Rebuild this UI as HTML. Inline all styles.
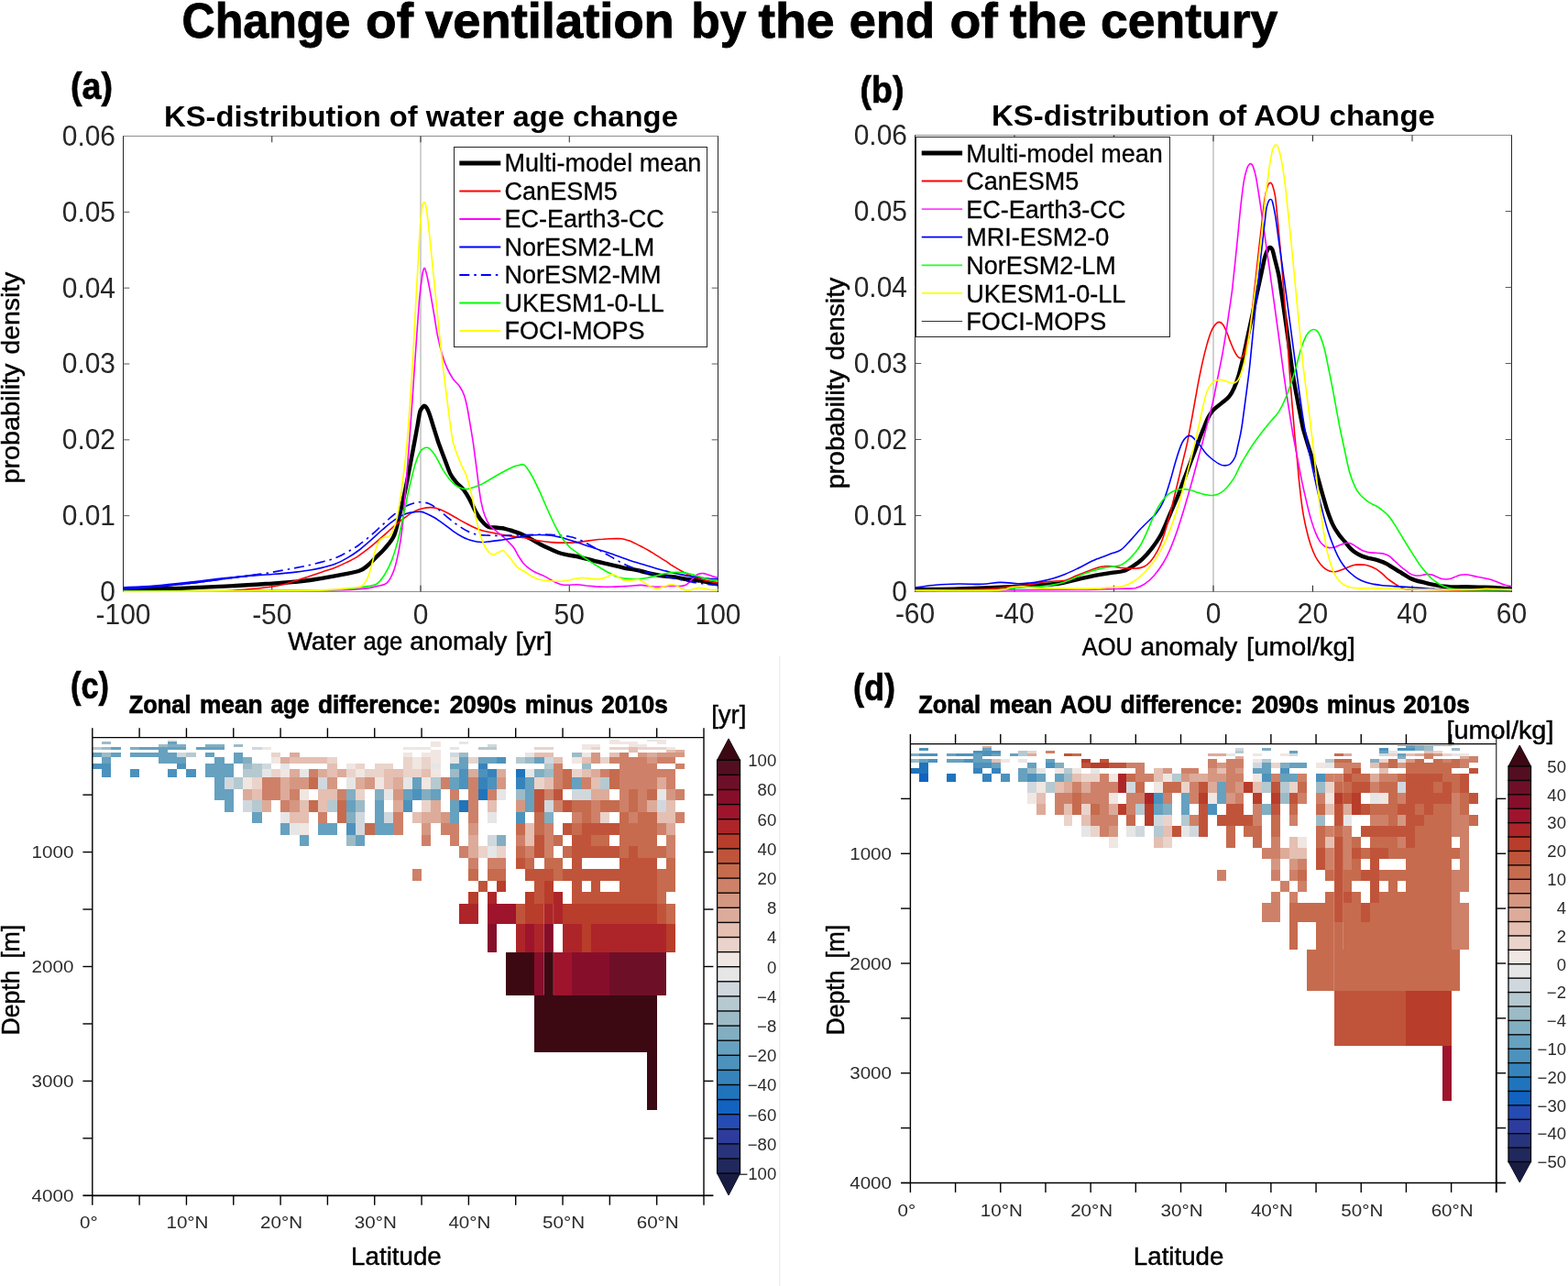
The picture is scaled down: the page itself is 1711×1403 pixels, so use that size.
<!DOCTYPE html>
<html lang="en">
<head>
<meta charset="utf-8">
<title>Change of ventilation by the end of the century</title>
<style>
html,body{margin:0;padding:0;background:#fff;}
body{width:1711px;height:1403px;overflow:hidden;font-family:"Liberation Sans",sans-serif;}
svg{display:block;}
</style>
</head>
<body>
<svg xmlns="http://www.w3.org/2000/svg" width="1711" height="1403" viewBox="0 0 1711 1403" font-family="'Liberation Sans', sans-serif">
<rect width="1711" height="1403" fill="#fff"/>
<line x1="850.80" y1="716.00" x2="850.80" y2="1403.00" stroke="#ececec" stroke-width="1.2"/>
<g><text transform="translate(198.40,41.20) scale(0.9292,1)" font-size="54.0" font-weight="bold" fill="#000" stroke="#000" stroke-width="0.9">Change</text><text transform="translate(399.00,41.20) scale(1.0199,1)" font-size="54.0" font-weight="bold" fill="#000" stroke="#000" stroke-width="0.9">of</text><text transform="translate(464.00,41.20) scale(1.0068,1)" font-size="54.0" font-weight="bold" fill="#000" stroke="#000" stroke-width="0.9">ventilation</text><text transform="translate(754.20,41.20) scale(0.9553,1)" font-size="54.0" font-weight="bold" fill="#000" stroke="#000" stroke-width="0.9">by</text><text transform="translate(827.40,41.20) scale(1.0284,1)" font-size="54.0" font-weight="bold" fill="#000" stroke="#000" stroke-width="0.9">the</text><text transform="translate(926.80,41.20) scale(0.9707,1)" font-size="54.0" font-weight="bold" fill="#000" stroke="#000" stroke-width="0.9">end</text><text transform="translate(1036.40,41.20) scale(1.0258,1)" font-size="54.0" font-weight="bold" fill="#000" stroke="#000" stroke-width="0.9">of</text><text transform="translate(1101.70,41.20) scale(1.0346,1)" font-size="54.0" font-weight="bold" fill="#000" stroke="#000" stroke-width="0.9">the</text><text transform="translate(1200.90,41.20) scale(0.9921,1)" font-size="54.0" font-weight="bold" fill="#000" stroke="#000" stroke-width="0.9">century</text></g>
<text transform="translate(77.00,107.50) scale(0.9293,1)" font-size="40.5" text-anchor="start" font-weight="bold" fill="#000" stroke="#000" stroke-width="0.7">(a)</text>
<text transform="translate(938.50,111.50) scale(0.9282,1)" font-size="40.5" text-anchor="start" font-weight="bold" fill="#000" stroke="#000" stroke-width="0.7">(b)</text>
<text transform="translate(77.00,761.50) scale(0.8485,1)" font-size="40.5" text-anchor="start" font-weight="bold" fill="#000" stroke="#000" stroke-width="0.7">(c)</text>
<text transform="translate(931.00,764.00) scale(0.8895,1)" font-size="40.5" text-anchor="start" font-weight="bold" fill="#000" stroke="#000" stroke-width="0.7">(d)</text>
<g id="panel-a">
<line x1="459.00" y1="148.50" x2="459.00" y2="645.50" stroke="#8a8a8a" stroke-width="0.8"/>
<line x1="134.00" y1="148.50" x2="784.00" y2="148.50" stroke="#8e8e8e" stroke-width="1"/>
<line x1="134.00" y1="645.50" x2="784.00" y2="645.50" stroke="#8e8e8e" stroke-width="1"/>
<line x1="134.50" y1="148.50" x2="134.50" y2="646.00" stroke="#262626" stroke-width="1"/>
<line x1="783.50" y1="148.50" x2="783.50" y2="646.00" stroke="#262626" stroke-width="1"/>
<line x1="296.75" y1="645.50" x2="296.75" y2="638.70" stroke="#262626" stroke-width="1"/>
<line x1="296.75" y1="148.50" x2="296.75" y2="155.30" stroke="#262626" stroke-width="1"/>
<line x1="459.00" y1="645.50" x2="459.00" y2="638.70" stroke="#262626" stroke-width="1"/>
<line x1="459.00" y1="148.50" x2="459.00" y2="155.30" stroke="#262626" stroke-width="1"/>
<line x1="621.25" y1="645.50" x2="621.25" y2="638.70" stroke="#262626" stroke-width="1"/>
<line x1="621.25" y1="148.50" x2="621.25" y2="155.30" stroke="#262626" stroke-width="1"/>
<line x1="134.50" y1="562.67" x2="141.30" y2="562.67" stroke="#5a5a5a" stroke-width="1"/>
<line x1="783.50" y1="562.67" x2="776.70" y2="562.67" stroke="#5a5a5a" stroke-width="1"/>
<line x1="134.50" y1="479.83" x2="141.30" y2="479.83" stroke="#5a5a5a" stroke-width="1"/>
<line x1="783.50" y1="479.83" x2="776.70" y2="479.83" stroke="#5a5a5a" stroke-width="1"/>
<line x1="134.50" y1="397.00" x2="141.30" y2="397.00" stroke="#5a5a5a" stroke-width="1"/>
<line x1="783.50" y1="397.00" x2="776.70" y2="397.00" stroke="#5a5a5a" stroke-width="1"/>
<line x1="134.50" y1="314.17" x2="141.30" y2="314.17" stroke="#5a5a5a" stroke-width="1"/>
<line x1="783.50" y1="314.17" x2="776.70" y2="314.17" stroke="#5a5a5a" stroke-width="1"/>
<line x1="134.50" y1="231.33" x2="141.30" y2="231.33" stroke="#5a5a5a" stroke-width="1"/>
<line x1="783.50" y1="231.33" x2="776.70" y2="231.33" stroke="#5a5a5a" stroke-width="1"/>
<clipPath id="clipA"><rect x="134.0" y="148.5" width="650.0" height="498.2"/></clipPath>
<g clip-path="url(#clipA)" fill="none" stroke-linejoin="round" stroke-linecap="butt">
<path d="M134.5,642.9C142.3,642.8 162.9,642.8 181.4,642.2C200.0,641.7 226.4,640.6 245.7,639.6C265.0,638.7 284.3,637.4 297.1,636.6C310.0,635.8 315.7,635.3 322.8,634.7C329.9,634.0 332.7,633.7 339.8,632.7C346.9,631.6 356.8,629.9 365.4,628.3C374.0,626.7 385.4,625.0 391.4,623.0C397.5,621.1 398.7,618.9 401.7,616.6C404.7,614.2 406.4,611.9 409.4,608.9C412.4,605.9 416.3,602.7 419.7,598.6C423.1,594.5 427.3,590.5 430.0,584.4C432.7,578.4 433.8,571.0 436.0,562.1C438.1,553.2 440.1,544.9 442.9,531.2C445.7,517.6 450.6,491.1 452.7,480.0C454.8,468.9 454.5,469.8 455.5,464.7C456.4,459.5 457.4,452.5 458.3,449.2C459.2,445.8 460.1,445.7 460.9,444.7C461.6,443.6 462.0,442.7 462.8,442.7C463.5,442.7 464.4,443.2 465.4,444.7C466.3,446.2 467.4,448.4 468.6,451.7C469.8,455.0 471.1,459.8 472.6,464.5C474.1,469.3 476.4,476.6 477.5,480.0C478.6,483.5 477.9,481.4 479.3,485.3C480.7,489.1 484.0,497.8 486.0,503.1C488.1,508.5 489.7,513.7 491.7,517.6C493.7,521.5 495.8,523.8 498.2,526.6C500.5,529.4 503.5,531.3 505.9,534.3C508.2,537.3 510.2,540.7 512.3,544.6C514.4,548.4 516.6,553.6 518.7,557.4C520.9,561.3 522.8,564.8 525.2,567.7C527.5,570.6 530.3,573.5 532.9,574.8C535.5,576.1 538.1,575.3 540.6,575.5C543.2,575.8 546.6,576.1 548.2,576.2C549.8,576.4 548.5,576.2 550.1,576.6C551.6,577.0 554.4,577.8 557.4,578.7C560.4,579.7 564.5,580.8 568.0,582.3C571.4,583.7 574.8,585.6 578.2,587.4C581.6,589.2 585.1,591.3 588.5,593.2C591.9,595.0 595.3,596.7 598.8,598.3C602.2,599.9 605.6,601.6 609.0,602.8C612.4,604.0 615.9,604.6 619.3,605.4C622.7,606.1 626.1,606.3 629.5,607.0C633.0,607.7 636.4,608.8 639.8,609.7C643.3,610.6 646.8,611.5 650.2,612.3C653.5,613.1 657.1,613.9 660.0,614.6C662.9,615.2 665.0,615.7 667.5,616.3C670.0,616.9 672.6,617.5 675.2,618.1C677.7,618.7 680.3,619.5 682.8,620.0C685.3,620.5 687.9,620.7 690.4,621.2C692.9,621.6 695.5,622.1 698.0,622.7C700.5,623.3 703.1,623.9 705.6,624.6C708.1,625.2 710.7,625.9 713.2,626.5C715.7,627.1 718.3,627.6 720.8,628.0C723.3,628.4 725.8,628.5 728.4,628.8C730.9,629.0 733.4,629.1 736.0,629.5C738.5,629.9 741.0,630.6 743.6,631.0C746.1,631.5 748.6,631.9 751.2,632.2C753.7,632.5 756.2,632.6 758.8,632.9C761.3,633.3 763.8,633.6 766.4,634.1C768.9,634.5 771.1,635.1 774.0,635.6C776.8,636.1 781.9,636.9 783.5,637.1" stroke="#000" stroke-width="4.4"/>
<path d="M134.5,645.2C150.9,645.1 212.2,645.0 232.9,644.8C253.5,644.6 251.1,644.3 258.6,643.9C266.1,643.5 271.4,642.9 277.9,642.2C284.3,641.6 291.8,640.8 297.2,640.0C302.5,639.2 305.7,638.6 310.0,637.5C314.3,636.4 318.5,634.8 322.8,633.5C327.0,632.2 332.7,630.3 335.6,629.4C338.5,628.4 337.3,628.8 340.1,627.9C343.0,626.9 348.6,625.0 352.8,623.5C357.1,622.1 361.4,620.8 365.7,619.2C370.0,617.5 374.3,615.5 378.6,613.4C382.9,611.2 387.1,609.1 391.4,606.3C395.7,603.5 400.0,600.1 404.3,596.7C408.6,593.2 412.9,589.5 417.1,585.7C421.4,582.0 425.7,577.8 430.0,574.1C434.3,570.5 439.0,566.6 442.9,563.9C446.7,561.1 449.9,559.0 453.2,557.4C456.4,555.9 459.4,555.1 462.2,554.5C464.9,553.8 467.5,553.6 469.9,553.6C472.2,553.6 473.5,553.7 476.3,554.6C479.1,555.5 483.2,557.1 486.6,558.7C490.0,560.4 493.4,562.6 496.9,564.5C500.3,566.4 503.7,568.5 507.2,570.3C510.6,572.1 514.0,573.9 517.4,575.4C520.9,576.9 524.3,578.3 527.7,579.3C531.2,580.3 534.7,580.8 538.1,581.4C541.5,582.1 545.8,583.0 547.9,583.4C550.0,583.8 548.4,583.5 550.9,583.9C553.3,584.2 558.7,585.0 562.8,585.6C566.9,586.2 571.4,586.7 575.7,587.4C579.9,588.1 584.2,589.3 588.5,590.0C592.8,590.7 597.0,591.3 601.3,591.6C605.6,592.0 609.9,592.1 614.1,592.1C618.4,592.2 623.1,592.1 627.0,591.9C630.8,591.6 633.8,591.0 637.2,590.6C640.7,590.2 644.1,589.7 647.5,589.3C651.0,588.9 654.7,588.5 657.8,588.3C660.9,588.0 663.7,587.8 666.1,587.7C668.5,587.6 670.1,587.6 672.1,587.6C674.2,587.6 676.2,587.5 678.2,587.7C680.3,588.0 682.3,588.6 684.3,589.3C686.3,589.9 688.4,590.6 690.4,591.5C692.4,592.4 694.4,593.6 696.5,594.6C698.5,595.6 700.5,596.5 702.5,597.6C704.6,598.7 706.6,599.8 708.6,601.0C710.7,602.2 712.7,603.6 714.7,604.8C716.7,606.1 718.8,607.4 720.8,608.6C722.8,609.9 724.8,611.1 726.9,612.4C728.9,613.8 730.9,615.3 732.9,616.6C735.0,617.9 737.0,619.2 739.0,620.4C741.0,621.6 743.1,622.7 745.1,623.8C747.1,624.9 748.9,625.8 751.2,626.9C753.5,627.9 756.2,629.0 758.8,629.9C761.3,630.8 763.8,631.5 766.4,632.2C768.9,632.9 771.1,633.4 774.0,634.1C776.8,634.7 781.9,635.7 783.5,636.0" stroke="#ff0000" stroke-width="1.6"/>
<path d="M134.5,645.2C170.1,645.0 304.1,644.6 347.9,644.1C391.8,643.6 387.1,642.8 397.6,642.1C408.1,641.3 407.0,640.7 411.1,639.6C415.2,638.6 419.1,638.9 422.3,635.9C425.4,632.9 427.9,627.5 430.0,621.7C432.1,615.9 433.6,608.9 435.1,601.2C436.6,593.4 438.0,584.4 439.0,575.4C440.1,566.4 440.6,557.2 441.4,547.1C442.3,537.1 443.2,526.2 444.1,515.0C445.0,503.8 445.7,494.4 446.8,480.0C447.9,465.6 449.3,445.7 450.5,428.6C451.6,411.4 452.8,393.2 454.0,377.2C455.1,361.1 456.4,341.7 457.2,332.2C457.9,322.6 457.8,324.4 458.3,320.1C458.8,315.7 459.5,309.9 460.1,305.9C460.6,302.0 460.9,298.5 461.5,296.2C462.1,294.0 462.9,292.4 463.4,292.4C463.9,292.3 464.1,294.0 464.6,295.8C465.1,297.7 465.7,299.5 466.5,303.5C467.3,307.4 468.3,312.4 469.6,319.3C470.8,326.3 472.6,337.0 474.0,345.0C475.3,352.9 476.1,359.8 477.6,366.9C479.0,373.9 481.0,381.6 482.7,387.4C484.4,393.2 485.9,397.3 487.9,401.6C489.8,405.9 491.9,409.7 494.3,413.2C496.7,416.6 500.0,419.2 502.0,422.2C504.0,425.2 505.2,427.5 506.5,431.2C507.8,434.8 508.7,439.1 509.7,444.0C510.8,448.9 511.6,454.8 512.7,460.8C513.7,466.8 515.1,475.3 515.9,480.1C516.6,484.8 516.5,483.9 517.2,489.3C517.9,494.7 519.3,505.3 520.2,512.4C521.1,519.5 521.8,525.7 522.6,531.7C523.4,537.7 524.1,543.3 525.2,548.4C526.2,553.6 527.5,558.5 529.0,562.6C530.5,566.6 532.1,570.0 534.2,572.9C536.3,575.7 539.3,577.5 541.6,579.5C543.9,581.5 546.8,583.7 548.1,584.9C549.5,586.0 548.7,585.3 549.7,586.2C550.7,587.1 552.3,588.5 554.0,590.3C555.8,592.1 558.4,594.4 560.3,597.0C562.2,599.6 563.7,603.2 565.4,606.0C567.1,608.8 568.8,611.6 570.5,613.7C572.2,615.8 573.5,617.1 575.7,618.8C577.8,620.5 580.4,622.4 583.4,624.0C586.4,625.6 590.2,626.7 593.6,628.4C597.0,630.2 600.9,632.7 603.9,634.2C606.9,635.7 609.0,636.7 611.6,637.4C614.1,638.1 616.3,638.3 619.3,638.3C622.3,638.4 626.1,637.7 629.5,637.8C633.0,637.9 636.4,638.6 639.8,639.0C643.3,639.3 646.7,639.6 650.1,639.9C653.5,640.1 657.1,640.2 660.0,640.3C662.9,640.4 665.1,640.3 667.6,640.3C670.1,640.2 672.7,640.0 675.2,639.9C677.7,639.8 680.3,639.8 682.8,639.6C685.3,639.5 687.9,639.2 690.4,639.0C692.9,638.8 696.0,638.5 698.0,638.4C700.0,638.3 700.8,638.4 702.5,638.6C704.3,638.8 706.6,639.4 708.6,639.6C710.7,639.9 712.7,640.0 714.7,640.2C716.7,640.3 718.8,640.4 720.8,640.4C722.8,640.3 724.8,640.0 726.9,639.8C728.9,639.5 730.9,639.1 732.9,639.0C735.0,639.0 737.2,639.3 739.0,639.4C740.8,639.5 742.1,639.6 743.6,639.4C745.1,639.2 746.9,638.8 748.1,638.3C749.4,637.7 750.2,636.9 751.2,636.0C752.2,635.1 753.2,634.0 754.2,632.9C755.2,631.9 756.2,630.9 757.3,629.9C758.3,629.0 759.3,627.9 760.3,627.2C761.3,626.6 762.3,626.2 763.3,625.9C764.3,625.7 765.4,625.5 766.4,625.5C767.4,625.5 768.4,625.7 769.4,625.9C770.4,626.2 771.4,626.5 772.4,626.9C773.5,627.2 774.3,627.6 775.5,628.0C776.6,628.4 778.0,628.9 779.3,629.3C780.6,629.7 782.8,630.1 783.5,630.3" stroke="#ff00ff" stroke-width="1.6"/>
<path d="M134.5,640.9C140.2,640.6 156.5,640.0 168.6,639.0C180.7,638.0 194.3,636.5 207.1,635.1C220.0,633.8 230.7,632.1 245.7,630.6C260.7,629.2 284.3,627.5 297.2,626.5C310.0,625.4 315.8,624.9 322.8,624.1C329.9,623.3 334.8,622.7 339.7,621.8C344.7,621.0 348.1,620.2 352.5,619.1C356.8,618.0 361.4,617.0 365.7,615.3C370.1,613.6 374.3,611.3 378.6,608.9C382.9,606.4 387.1,603.7 391.4,600.5C395.7,597.3 400.0,593.3 404.3,589.6C408.6,585.8 412.9,581.7 417.1,578.0C421.4,574.4 425.7,570.6 430.0,567.7C434.3,564.8 439.0,562.2 442.9,560.6C446.7,559.1 450.6,558.8 453.2,558.5C455.7,558.1 456.6,558.2 458.3,558.3C460.0,558.5 460.9,558.3 463.4,559.4C466.0,560.4 470.3,562.5 473.7,564.5C477.2,566.5 480.6,569.1 484.0,571.6C487.4,574.0 490.9,576.9 494.3,579.3C497.7,581.7 501.2,584.0 504.6,585.7C508.0,587.5 511.4,588.9 514.9,589.8C518.3,590.8 521.7,591.4 525.2,591.5C528.6,591.6 532.0,590.9 535.4,590.6C538.8,590.2 543.3,589.7 545.7,589.4C548.1,589.1 547.1,589.3 549.9,588.8C552.8,588.3 558.6,587.3 562.9,586.5C567.2,585.7 571.4,584.7 575.7,584.2C579.9,583.7 584.2,583.5 588.5,583.5C592.8,583.5 597.5,583.8 601.3,584.2C605.2,584.6 608.2,585.3 611.6,586.1C615.0,587.0 618.4,588.2 621.8,589.3C625.3,590.4 628.7,591.4 632.1,592.5C635.6,593.6 639.1,594.9 642.5,596.0C645.9,597.2 649.8,598.4 652.7,599.4C655.6,600.3 657.4,600.9 659.9,601.7C662.4,602.6 665.0,603.4 667.5,604.3C670.1,605.2 672.6,606.2 675.2,607.1C677.7,608.0 680.3,608.9 682.8,609.8C685.3,610.7 687.9,611.6 690.4,612.4C692.9,613.2 695.5,613.9 698.0,614.7C700.5,615.5 703.1,616.2 705.6,617.0C708.1,617.7 710.7,618.5 713.2,619.3C715.7,620.0 718.3,620.8 720.8,621.5C723.3,622.2 725.8,622.8 728.4,623.4C730.9,624.1 733.4,624.8 736.0,625.3C738.5,625.9 741.0,626.4 743.6,626.9C746.1,627.4 748.6,627.9 751.2,628.4C753.7,628.8 756.2,629.2 758.8,629.5C761.3,629.9 763.8,630.2 766.4,630.5C768.9,630.8 771.1,631.1 774.0,631.3C776.8,631.5 781.9,631.7 783.5,631.8" stroke="#0000ff" stroke-width="1.6"/>
<path d="M134.5,642.9C140.2,642.4 156.5,641.4 168.6,640.3C180.7,639.2 194.3,637.9 207.1,636.4C220.0,634.9 232.9,633.0 245.7,631.3C258.6,629.6 277.9,627.2 284.3,626.4" stroke="#0000ff" stroke-width="1.9"/>
<path d="M134.5,642.9C140.2,642.4 156.5,641.4 168.6,640.3C180.7,639.2 194.3,637.9 207.1,636.4C220.0,634.9 232.9,633.0 245.7,631.3C258.6,629.6 273.6,628.0 284.3,626.4C295.0,624.8 302.4,623.3 309.9,621.9C317.4,620.6 324.3,619.3 329.3,618.3C334.3,617.3 336.0,616.9 339.9,616.0C343.8,615.1 348.3,613.8 352.6,612.7C357.0,611.5 361.4,610.6 365.7,608.9C370.0,607.2 374.3,604.8 378.6,602.4C382.9,600.1 387.1,597.7 391.4,594.7C395.7,591.7 400.0,588.1 404.3,584.4C408.6,580.8 412.9,576.7 417.1,572.9C421.4,569.0 425.7,564.7 430.0,561.3C434.3,557.9 439.0,554.4 442.9,552.3C446.7,550.1 450.4,549.2 453.2,548.4C455.9,547.7 457.0,547.6 459.6,547.8C462.2,548.0 465.4,548.3 468.6,549.7C471.8,551.1 475.4,553.6 478.9,556.1C482.3,558.7 485.7,562.4 489.2,565.1C492.6,567.9 496.0,570.5 499.4,572.9C502.9,575.2 506.3,577.6 509.7,579.3C513.2,581.0 516.6,582.4 520.0,583.2C523.5,583.9 526.9,583.8 530.4,584.0C533.8,584.2 537.3,584.4 540.6,584.4C543.8,584.5 546.3,584.5 550.0,584.4C553.7,584.3 558.6,584.2 562.8,584.0C567.1,583.9 571.4,583.7 575.7,583.5C579.9,583.4 584.2,583.2 588.5,583.2C592.8,583.1 597.5,583.1 601.3,583.3C605.2,583.5 608.2,583.8 611.6,584.2C615.0,584.5 618.4,584.7 621.8,585.5C625.3,586.2 628.7,587.3 632.1,588.7C635.5,590.1 638.6,592.0 642.0,593.8C645.5,595.6 649.7,597.9 652.7,599.5C655.7,601.1 657.4,602.1 659.9,603.5C662.4,604.9 665.0,606.4 667.6,607.9C670.1,609.4 672.7,611.0 675.2,612.4C677.7,613.8 680.3,615.1 682.8,616.2C685.3,617.4 687.9,618.3 690.4,619.3C692.9,620.2 695.5,621.1 698.0,621.9C700.5,622.7 703.1,623.5 705.6,624.2C708.1,624.9 710.7,625.5 713.2,626.1C715.7,626.7 718.3,627.4 720.8,628.0C723.3,628.6 725.8,629.0 728.4,629.5C730.9,630.0 733.4,630.5 736.0,631.0C738.5,631.5 741.0,632.1 743.6,632.6C746.1,633.1 748.6,633.6 751.2,634.1C753.7,634.6 756.2,635.2 758.8,635.6C761.3,636.0 763.8,636.4 766.4,636.7C768.9,637.1 771.1,637.3 774.0,637.7C776.8,638.0 781.9,638.5 783.5,638.6" stroke="#0000ff" stroke-width="1.65" stroke-dasharray="11,5,2.5,5"/>
<path d="M134.5,645.0C167.4,644.9 291.0,644.5 331.6,644.1C372.3,643.7 367.5,643.2 378.4,642.5C389.3,641.9 391.8,641.1 397.2,640.2C402.6,639.3 407.0,639.4 410.7,637.2C414.5,634.9 416.9,631.2 419.7,626.9C422.5,622.6 425.1,617.4 427.4,611.4C429.8,605.4 431.7,599.0 433.9,590.9C436.0,582.7 438.1,572.4 440.3,562.6C442.4,552.7 444.6,541.1 446.7,531.7C448.9,522.3 451.2,512.4 453.2,506.0C455.1,499.6 456.8,495.9 458.3,493.1C459.8,490.4 461.0,490.1 462.2,489.3C463.3,488.5 464.3,488.3 465.4,488.3C466.4,488.3 467.2,488.2 468.6,489.3C470.0,490.4 472.0,492.6 473.7,495.1C475.4,497.5 477.2,501.0 478.9,504.1C480.6,507.2 482.1,510.6 484.0,513.7C485.9,516.8 488.3,520.1 490.4,522.7C492.6,525.3 494.7,527.5 496.9,529.1C499.0,530.8 501.2,531.9 503.3,532.6C505.4,533.4 507.4,533.8 509.7,533.6C512.1,533.5 514.7,532.4 517.4,531.5C520.2,530.5 523.5,529.3 526.4,527.9C529.4,526.4 531.9,524.6 535.1,522.8C538.3,520.9 541.5,518.9 545.5,516.7C549.5,514.5 555.7,511.1 559.0,509.7C562.4,508.2 563.4,508.1 565.5,507.7C567.7,507.3 569.5,505.6 571.8,507.2C574.1,508.8 576.7,512.8 579.5,517.5C582.3,522.2 585.5,529.0 588.5,535.4C591.5,541.8 594.5,549.3 597.5,556.0C600.5,562.6 603.7,569.9 606.5,575.2C609.2,580.5 611.6,584.4 614.1,588.0C616.7,591.7 618.9,594.2 621.8,597.0C624.8,599.8 628.7,602.3 632.1,604.7C635.5,607.1 639.0,609.3 642.5,611.6C645.9,613.9 650.0,616.5 653.0,618.3C655.9,620.1 657.9,621.3 660.1,622.5C662.3,623.8 664.2,624.8 666.2,625.8C668.2,626.8 670.2,628.0 672.2,628.8C674.2,629.5 676.2,630.1 678.2,630.5C680.3,631.0 682.3,631.2 684.3,631.4C686.3,631.6 688.4,631.8 690.4,631.8C692.4,631.8 694.4,631.7 696.5,631.6C698.5,631.4 700.5,631.3 702.5,631.0C704.6,630.8 706.6,630.3 708.6,629.9C710.7,629.5 712.7,628.9 714.7,628.4C716.7,627.9 718.8,627.3 720.8,626.9C722.8,626.4 724.8,625.9 726.9,625.5C728.9,625.1 730.9,624.8 732.9,624.6C735.0,624.4 737.0,624.2 739.0,624.2C741.0,624.2 743.1,624.3 745.1,624.6C747.1,624.8 749.1,625.3 751.2,625.7C753.2,626.2 755.2,626.7 757.3,627.2C759.3,627.8 761.3,628.5 763.3,629.1C765.4,629.8 767.4,630.5 769.4,631.0C771.4,631.6 773.1,632.1 775.5,632.6C777.8,633.1 782.1,633.8 783.5,634.1" stroke="#00ff00" stroke-width="1.6"/>
<path d="M134.5,645.3C165.6,645.1 282.8,644.7 321.4,644.3C359.9,643.9 355.0,643.5 365.6,643.0C376.1,642.4 380.1,641.7 384.8,641.2C389.6,640.6 391.4,641.3 394.0,639.7C396.6,638.2 398.5,635.9 400.4,632.0C402.4,628.2 404.1,621.7 405.6,616.6C407.1,611.4 408.1,605.4 409.4,601.2C410.7,596.9 411.8,593.3 413.3,590.9C414.8,588.4 416.7,587.2 418.4,586.4C420.1,585.5 421.9,586.9 423.6,585.7C425.3,584.5 427.2,582.3 428.7,579.3C430.2,576.3 431.3,573.1 432.6,567.7C433.9,562.4 435.2,555.3 436.4,547.1C437.7,539.0 439.0,527.4 440.1,518.8C441.2,510.3 442.2,502.2 442.9,495.7C443.6,489.2 443.7,489.0 444.4,479.9C445.2,470.9 446.3,456.4 447.3,441.4C448.3,426.4 449.5,407.1 450.5,390.0C451.5,372.9 452.7,350.2 453.3,338.6C454.0,326.9 453.8,329.5 454.3,320.0C454.9,310.5 455.8,293.2 456.5,281.4C457.1,269.7 457.7,258.1 458.3,249.3C458.9,240.5 459.7,233.2 460.2,228.7C460.8,224.2 461.1,223.6 461.5,222.3C461.9,221.0 462.4,220.7 462.8,220.7C463.2,220.7 463.5,220.3 464.1,222.3C464.6,224.3 465.3,227.0 466.0,232.6C466.8,238.1 467.7,247.6 468.6,255.7C469.4,263.9 470.3,272.9 471.2,281.4C472.0,290.0 473.1,300.8 473.8,307.2C474.4,313.5 474.2,311.9 475.0,319.3C475.7,326.7 477.1,340.7 478.2,351.4C479.3,362.1 480.3,372.9 481.4,383.6C482.6,394.3 484.0,405.0 485.3,415.7C486.6,426.4 488.0,437.5 489.3,447.8C490.7,458.2 492.5,471.8 493.5,478.0C494.5,484.2 494.1,481.7 495.2,485.2C496.2,488.6 498.4,494.7 500.0,498.8C501.5,502.9 503.2,506.7 504.6,509.9C506.0,513.0 507.2,514.1 508.4,517.6C509.7,521.0 511.0,525.5 512.3,530.4C513.6,535.4 514.9,540.9 516.2,547.1C517.4,553.4 518.7,561.7 520.0,567.7C521.3,573.7 522.4,578.4 523.9,583.2C525.4,587.9 527.3,592.7 529.0,596.0C530.7,599.3 532.5,601.5 534.2,603.1C535.8,604.6 537.1,605.3 538.7,605.3C540.2,605.2 541.7,603.5 543.3,602.7C545.0,602.0 547.4,600.9 548.5,600.6C549.5,600.3 548.8,600.1 549.7,601.0C550.6,601.8 552.3,603.4 554.0,605.6C555.8,607.7 558.4,611.4 560.3,613.7C562.2,616.0 563.3,617.8 565.4,619.5C567.5,621.2 570.5,622.4 573.1,624.0C575.7,625.6 578.2,627.7 580.8,629.1C583.4,630.5 585.5,631.5 588.5,632.3C591.5,633.0 595.3,633.3 598.8,633.6C602.2,633.9 605.6,634.3 609.0,634.2C612.4,634.2 615.9,633.7 619.3,633.2C622.7,632.7 626.6,631.5 629.5,631.0C632.5,630.5 634.7,630.3 637.2,630.4C639.8,630.4 642.8,631.1 644.9,631.4C647.1,631.7 648.6,631.9 650.2,631.9C651.9,631.9 653.4,631.9 654.9,631.6C656.5,631.4 658.2,630.9 659.7,630.4C661.2,629.9 662.6,629.2 663.9,628.6C665.3,628.0 666.4,627.0 667.6,626.9C668.8,626.7 670.1,627.1 671.4,627.6C672.7,628.1 673.9,629.1 675.2,629.9C676.5,630.7 677.7,631.6 679.0,632.2C680.3,632.7 681.5,633.1 682.8,633.3C684.1,633.5 685.3,633.6 686.6,633.5C687.9,633.5 689.1,633.2 690.4,632.9C691.7,632.7 692.9,632.2 694.2,632.2C695.5,632.1 696.7,632.1 698.0,632.6C699.3,633.0 700.5,634.0 701.8,634.8C703.1,635.7 704.3,636.7 705.6,637.5C706.9,638.3 708.1,639.1 709.4,639.8C710.7,640.4 711.9,640.9 713.2,641.3C714.5,641.7 715.7,641.9 717.0,641.9C718.3,641.9 719.5,641.7 720.8,641.3C722.0,640.9 723.3,640.2 724.6,639.8C725.8,639.3 727.1,639.0 728.4,638.6C729.6,638.3 730.9,637.9 732.2,637.9C733.4,637.8 734.7,637.9 736.0,638.3C737.2,638.6 738.5,639.1 739.8,639.8C741.0,640.4 742.3,641.4 743.6,642.1C744.8,642.7 746.1,643.3 747.4,643.6C748.6,643.9 749.9,644.0 751.2,644.0C752.4,643.9 753.7,643.5 755.0,643.2C756.2,642.9 757.5,642.3 758.8,642.1C760.0,641.8 761.3,641.5 762.6,641.4C763.8,641.4 765.1,641.5 766.4,641.7C767.6,641.8 768.9,642.2 770.2,642.4C771.4,642.7 772.6,643.0 774.0,643.2C775.4,643.4 776.9,643.5 778.5,643.6C780.1,643.6 782.6,643.5 783.5,643.4" stroke="#ffff00" stroke-width="1.65"/>
</g>
<text transform="translate(134.50,680.60) scale(0.9750,1)" font-size="30.7" text-anchor="middle" fill="#262626">-100</text>
<text transform="translate(296.75,680.60) scale(0.9750,1)" font-size="30.7" text-anchor="middle" fill="#262626">-50</text>
<text transform="translate(459.00,680.60) scale(0.9750,1)" font-size="30.7" text-anchor="middle" fill="#262626">0</text>
<text transform="translate(621.25,680.60) scale(0.9750,1)" font-size="30.7" text-anchor="middle" fill="#262626">50</text>
<text transform="translate(783.50,680.60) scale(0.9750,1)" font-size="30.7" text-anchor="middle" fill="#262626">100</text>
<text transform="translate(126.00,655.99) scale(0.9750,1)" font-size="30.7" text-anchor="end" fill="#262626">0</text>
<text transform="translate(126.00,573.16) scale(0.9750,1)" font-size="30.7" text-anchor="end" fill="#262626">0.01</text>
<text transform="translate(126.00,490.32) scale(0.9750,1)" font-size="30.7" text-anchor="end" fill="#262626">0.02</text>
<text transform="translate(126.00,407.49) scale(0.9750,1)" font-size="30.7" text-anchor="end" fill="#262626">0.03</text>
<text transform="translate(126.00,324.66) scale(0.9750,1)" font-size="30.7" text-anchor="end" fill="#262626">0.04</text>
<text transform="translate(126.00,241.82) scale(0.9750,1)" font-size="30.7" text-anchor="end" fill="#262626">0.05</text>
<text transform="translate(126.00,158.99) scale(0.9750,1)" font-size="30.7" text-anchor="end" fill="#262626">0.06</text>
<text transform="translate(179.00,137.70) scale(1.0181,1)" font-size="32.2" text-anchor="start" font-weight="bold" fill="#000">KS-distribution of water age change</text>
<g><text transform="translate(314.20,709.00) scale(1.0320,1)" font-size="27.3" fill="#000" stroke="#000" stroke-width="0.45">Water</text><text transform="translate(396.50,709.00) scale(0.9377,1)" font-size="27.3" fill="#000" stroke="#000" stroke-width="0.45">age</text><text transform="translate(447.30,709.00) scale(1.0272,1)" font-size="27.3" fill="#000" stroke="#000" stroke-width="0.45">anomaly</text><text transform="translate(562.40,709.00) scale(1.0549,1)" font-size="27.3" fill="#000" stroke="#000" stroke-width="0.45">[yr]</text></g>
<g><text transform="translate(21.40,527.00) rotate(-90) translate(-0.40,0) scale(1.0520,1)" font-size="27.3" fill="#000" stroke="#000" stroke-width="0.45">probability</text><text transform="translate(21.40,527.00) rotate(-90) translate(140.40,0) scale(1.0395,1)" font-size="27.3" fill="#000" stroke="#000" stroke-width="0.45">density</text></g>
<rect x="495.5" y="160.5" width="276.0" height="218.0" fill="#fff" stroke="#262626" stroke-width="1"/>
<line x1="501.30" y1="178.00" x2="546.30" y2="178.00" stroke="#000" stroke-width="5.0"/>
<text transform="translate(550.60,187.20)" font-size="27.0" text-anchor="start" fill="#000" stroke="#000" stroke-width="0.3">Multi-model mean</text>
<line x1="501.30" y1="208.50" x2="546.30" y2="208.50" stroke="#f00" stroke-width="1.8"/>
<text transform="translate(550.60,217.70)" font-size="27.0" text-anchor="start" fill="#000" stroke="#000" stroke-width="0.3">CanESM5</text>
<line x1="501.30" y1="239.00" x2="546.30" y2="239.00" stroke="#f0f" stroke-width="1.8"/>
<text transform="translate(550.60,248.20)" font-size="27.0" text-anchor="start" fill="#000" stroke="#000" stroke-width="0.3">EC-Earth3-CC</text>
<line x1="501.30" y1="269.50" x2="546.30" y2="269.50" stroke="#00f" stroke-width="1.8"/>
<text transform="translate(550.60,278.70)" font-size="27.0" text-anchor="start" fill="#000" stroke="#000" stroke-width="0.3">NorESM2-LM</text>
<line x1="501.30" y1="300.00" x2="546.30" y2="300.00" stroke="#00f" stroke-width="1.8" stroke-dasharray="11,5,2.5,5"/>
<text transform="translate(550.60,309.20)" font-size="27.0" text-anchor="start" fill="#000" stroke="#000" stroke-width="0.3">NorESM2-MM</text>
<line x1="501.30" y1="330.50" x2="546.30" y2="330.50" stroke="#0f0" stroke-width="1.8"/>
<text transform="translate(550.60,339.70)" font-size="27.0" text-anchor="start" fill="#000" stroke="#000" stroke-width="0.3">UKESM1-0-LL</text>
<line x1="501.30" y1="361.00" x2="546.30" y2="361.00" stroke="#ff0" stroke-width="1.8"/>
<text transform="translate(550.60,370.20)" font-size="27.0" text-anchor="start" fill="#000" stroke="#000" stroke-width="0.3">FOCI-MOPS</text>
</g>
<g id="panel-b">
<line x1="1324.00" y1="147.50" x2="1324.00" y2="645.50" stroke="#8a8a8a" stroke-width="0.8"/>
<line x1="998.00" y1="147.50" x2="1650.00" y2="147.50" stroke="#8e8e8e" stroke-width="1"/>
<line x1="998.00" y1="645.50" x2="1650.00" y2="645.50" stroke="#8e8e8e" stroke-width="1"/>
<line x1="998.50" y1="147.50" x2="998.50" y2="646.00" stroke="#262626" stroke-width="1"/>
<line x1="1649.50" y1="147.50" x2="1649.50" y2="646.00" stroke="#262626" stroke-width="1"/>
<line x1="1107.00" y1="645.50" x2="1107.00" y2="638.70" stroke="#262626" stroke-width="1"/>
<line x1="1107.00" y1="147.50" x2="1107.00" y2="154.30" stroke="#262626" stroke-width="1"/>
<line x1="1215.50" y1="645.50" x2="1215.50" y2="638.70" stroke="#262626" stroke-width="1"/>
<line x1="1215.50" y1="147.50" x2="1215.50" y2="154.30" stroke="#262626" stroke-width="1"/>
<line x1="1324.00" y1="645.50" x2="1324.00" y2="638.70" stroke="#262626" stroke-width="1"/>
<line x1="1324.00" y1="147.50" x2="1324.00" y2="154.30" stroke="#262626" stroke-width="1"/>
<line x1="1432.50" y1="645.50" x2="1432.50" y2="638.70" stroke="#262626" stroke-width="1"/>
<line x1="1432.50" y1="147.50" x2="1432.50" y2="154.30" stroke="#262626" stroke-width="1"/>
<line x1="1541.00" y1="645.50" x2="1541.00" y2="638.70" stroke="#262626" stroke-width="1"/>
<line x1="1541.00" y1="147.50" x2="1541.00" y2="154.30" stroke="#262626" stroke-width="1"/>
<line x1="998.50" y1="562.50" x2="1005.30" y2="562.50" stroke="#5a5a5a" stroke-width="1"/>
<line x1="1649.50" y1="562.50" x2="1642.70" y2="562.50" stroke="#5a5a5a" stroke-width="1"/>
<line x1="998.50" y1="479.50" x2="1005.30" y2="479.50" stroke="#5a5a5a" stroke-width="1"/>
<line x1="1649.50" y1="479.50" x2="1642.70" y2="479.50" stroke="#5a5a5a" stroke-width="1"/>
<line x1="998.50" y1="396.50" x2="1005.30" y2="396.50" stroke="#5a5a5a" stroke-width="1"/>
<line x1="1649.50" y1="396.50" x2="1642.70" y2="396.50" stroke="#5a5a5a" stroke-width="1"/>
<line x1="998.50" y1="313.50" x2="1005.30" y2="313.50" stroke="#5a5a5a" stroke-width="1"/>
<line x1="1649.50" y1="313.50" x2="1642.70" y2="313.50" stroke="#5a5a5a" stroke-width="1"/>
<line x1="998.50" y1="230.50" x2="1005.30" y2="230.50" stroke="#5a5a5a" stroke-width="1"/>
<line x1="1649.50" y1="230.50" x2="1642.70" y2="230.50" stroke="#5a5a5a" stroke-width="1"/>
<clipPath id="clipB"><rect x="998.0" y="147.5" width="652.0" height="499.2"/></clipPath>
<g clip-path="url(#clipB)" fill="none" stroke-linejoin="round" stroke-linecap="butt">
<path d="M998.6,643.1C1006.6,643.0 1029.9,642.9 1046.4,642.4C1063.0,642.0 1085.0,641.2 1097.9,640.5C1110.7,639.9 1115.0,639.1 1123.6,638.6C1132.2,638.0 1142.9,637.8 1149.3,637.3C1155.7,636.8 1157.9,636.2 1162.2,635.4C1166.4,634.5 1170.6,633.3 1174.9,632.3C1179.2,631.3 1183.8,630.3 1188.0,629.4C1192.2,628.5 1196.0,627.7 1200.2,626.9C1204.3,626.2 1208.6,625.5 1212.9,624.8C1217.1,624.2 1221.9,624.2 1225.7,623.0C1229.6,621.9 1232.6,620.0 1236.0,617.9C1239.4,615.7 1242.9,613.4 1246.3,610.2C1249.7,606.9 1253.1,603.1 1256.6,598.6C1260.0,594.1 1263.4,589.6 1266.9,583.2C1270.3,576.7 1274.1,566.9 1277.1,560.0C1280.1,553.1 1282.3,548.4 1284.9,542.0C1287.4,535.6 1290.0,528.1 1292.6,521.4C1295.1,514.8 1297.7,508.1 1300.0,502.0C1302.3,496.0 1305.0,489.0 1306.4,485.3C1307.8,481.7 1307.1,483.3 1308.4,480.1C1309.6,476.9 1312.2,470.3 1313.9,466.2C1315.6,462.1 1316.7,458.6 1318.3,455.6C1319.9,452.5 1321.7,449.9 1323.4,447.9C1325.2,445.8 1326.7,445.0 1328.6,443.4C1330.5,441.8 1332.9,440.0 1335.0,438.2C1337.2,436.4 1339.5,434.9 1341.4,432.4C1343.4,430.0 1344.9,427.3 1346.6,423.4C1348.3,419.6 1350.0,415.1 1351.7,409.3C1353.4,403.5 1355.1,396.2 1356.9,388.7C1358.6,381.2 1360.3,372.6 1362.1,364.3C1363.9,356.0 1366.0,346.1 1367.6,338.7C1369.2,331.3 1370.2,326.6 1371.7,319.9C1373.2,313.1 1375.0,304.6 1376.4,298.2C1377.8,291.8 1378.9,285.7 1380.0,281.4C1381.1,277.1 1382.3,274.4 1383.2,272.4C1384.2,270.5 1384.9,269.9 1385.8,269.9C1386.6,269.9 1387.5,270.3 1388.4,272.4C1389.3,274.6 1390.1,278.7 1391.1,282.8C1392.2,287.0 1393.9,293.7 1394.7,297.3C1395.5,300.8 1395.0,298.2 1396.0,304.0C1396.9,309.8 1398.6,321.1 1400.2,332.2C1401.9,343.3 1403.9,357.9 1405.7,370.7C1407.5,383.6 1409.0,397.5 1410.9,409.3C1412.7,421.1 1415.0,432.0 1416.7,441.3C1418.5,450.6 1420.4,460.1 1421.4,465.1C1422.4,470.0 1421.7,466.8 1422.9,470.9C1424.1,474.9 1426.4,482.7 1428.5,489.4C1430.6,496.1 1433.1,503.7 1435.3,511.1C1437.5,518.6 1439.6,526.8 1441.7,534.3C1443.9,541.8 1446.0,549.7 1448.1,556.1C1450.3,562.6 1452.4,568.4 1454.6,572.9C1456.7,577.4 1458.9,580.2 1461.0,583.2C1463.1,586.2 1465.3,588.3 1467.4,590.9C1469.6,593.4 1471.7,596.4 1473.9,598.6C1476.0,600.7 1478.1,602.3 1480.3,603.7C1482.4,605.1 1484.6,606.1 1486.7,606.9C1488.9,607.8 1491.0,608.3 1493.2,608.9C1495.3,609.4 1497.4,609.6 1499.6,610.2C1501.7,610.7 1503.9,611.3 1506.0,612.1C1508.2,612.8 1510.3,613.6 1512.4,614.7C1514.6,615.7 1516.6,617.3 1518.8,618.6C1521.0,620.0 1523.6,621.6 1525.5,622.8C1527.3,623.9 1528.4,624.6 1529.9,625.5C1531.4,626.4 1533.1,627.4 1534.6,628.3C1536.1,629.2 1537.4,630.2 1539.1,631.0C1540.9,631.9 1542.9,632.6 1545.2,633.3C1547.5,634.0 1550.3,634.6 1552.8,635.2C1555.3,635.9 1557.9,636.5 1560.4,637.1C1562.9,637.7 1565.5,638.2 1568.0,638.6C1570.5,639.1 1573.1,639.5 1575.6,639.8C1578.1,640.1 1580.7,640.3 1583.2,640.4C1585.7,640.5 1588.3,640.4 1590.8,640.4C1593.3,640.3 1595.8,640.2 1598.4,640.2C1600.9,640.2 1603.4,640.3 1606.0,640.4C1608.5,640.5 1611.0,640.6 1613.6,640.7C1616.1,640.7 1618.6,640.7 1621.2,640.7C1623.7,640.7 1626.2,640.8 1628.8,640.9C1631.3,641.0 1633.8,641.3 1636.4,641.4C1638.9,641.6 1641.8,641.9 1644.0,642.1C1646.2,642.2 1648.7,642.2 1649.7,642.2" stroke="#000" stroke-width="4.4"/>
<path d="M998.6,643.7C1010.9,643.6 1055.6,643.6 1072.1,643.1C1088.7,642.5 1089.3,641.4 1097.9,640.5C1106.4,639.7 1116.1,638.9 1123.6,637.9C1131.1,636.9 1136.4,635.3 1142.9,634.5C1149.3,633.7 1156.9,634.2 1162.2,633.2C1167.4,632.1 1170.3,629.8 1174.6,628.1C1179.0,626.3 1184.0,624.3 1188.2,622.7C1192.5,621.2 1197.6,619.4 1200.4,618.6C1203.2,617.8 1203.1,618.0 1205.1,617.9C1207.2,617.7 1209.4,617.5 1212.9,617.9C1216.3,618.2 1221.4,619.4 1225.7,619.8C1230.0,620.2 1234.9,620.4 1238.6,620.2C1242.2,620.0 1244.8,619.8 1247.6,618.5C1250.4,617.3 1252.7,615.6 1255.3,612.7C1257.9,609.8 1260.6,605.7 1263.0,601.2C1265.4,596.7 1267.3,591.9 1269.4,585.7C1271.6,579.5 1273.7,571.8 1275.9,563.9C1278.0,555.9 1280.1,546.9 1282.3,538.1C1284.5,529.4 1286.9,519.3 1288.8,511.2C1290.8,503.0 1292.9,494.6 1294.1,489.4C1295.3,484.1 1295.0,485.7 1296.2,479.8C1297.3,474.0 1299.3,463.8 1301.0,454.2C1302.8,444.6 1304.9,431.8 1306.7,422.2C1308.5,412.5 1310.2,404.1 1311.9,396.4C1313.6,388.7 1315.3,381.9 1317.0,375.9C1318.7,369.9 1320.5,364.2 1322.2,360.4C1323.8,356.7 1325.3,354.9 1326.7,353.4C1328.0,351.9 1329.2,351.3 1330.5,351.4C1331.8,351.5 1333.0,352.1 1334.4,354.0C1335.8,355.9 1337.5,359.8 1338.9,363.0C1340.3,366.2 1341.4,370.1 1342.7,373.3C1344.0,376.5 1345.3,379.7 1346.6,382.3C1347.9,384.9 1349.3,387.3 1350.4,388.7C1351.6,390.1 1352.6,390.9 1353.7,390.6C1354.7,390.4 1355.7,390.1 1356.9,387.4C1358.0,384.8 1359.4,380.1 1360.7,374.6C1362.0,369.0 1363.5,361.1 1364.6,354.0C1365.6,346.9 1366.2,339.4 1367.1,332.1C1367.9,324.8 1368.5,318.7 1369.5,310.3C1370.4,301.8 1371.4,292.3 1372.6,281.5C1373.8,270.7 1375.4,256.2 1376.7,245.5C1377.9,234.8 1378.9,224.2 1380.0,217.1C1381.1,210.1 1382.3,206.0 1383.2,203.0C1384.2,200.0 1384.9,199.6 1385.8,199.4C1386.6,199.2 1387.4,199.2 1388.4,201.7C1389.3,204.2 1390.6,208.1 1391.6,214.6C1392.5,221.0 1393.2,230.3 1394.2,240.4C1395.2,250.4 1396.5,265.1 1397.4,275.1C1398.3,285.0 1398.7,290.5 1399.5,300.0C1400.2,309.5 1401.1,321.4 1402.0,332.1C1402.8,342.9 1403.6,352.5 1404.4,364.3C1405.3,376.1 1406.1,390.0 1407.0,402.9C1407.9,415.7 1409.1,430.6 1410.0,441.4C1410.9,452.2 1411.7,461.9 1412.2,467.5C1412.6,473.1 1412.3,469.2 1412.8,475.0C1413.4,480.7 1414.5,492.2 1415.5,502.1C1416.4,512.0 1417.4,524.2 1418.6,534.3C1419.7,544.4 1420.9,554.0 1422.4,562.6C1423.9,571.1 1425.9,579.3 1427.6,585.7C1429.3,592.2 1431.0,596.9 1432.7,601.2C1434.4,605.4 1435.9,608.4 1437.9,611.4C1439.8,614.4 1442.1,617.2 1444.3,619.2C1446.4,621.1 1448.6,622.3 1450.7,623.0C1452.9,623.8 1455.0,623.9 1457.1,623.7C1459.3,623.4 1461.4,622.5 1463.6,621.7C1465.7,621.0 1467.9,620.0 1470.0,619.2C1472.1,618.3 1474.3,617.4 1476.4,616.8C1478.6,616.3 1480.7,616.0 1482.9,615.9C1485.0,615.9 1487.1,616.0 1489.3,616.3C1491.4,616.6 1493.6,617.1 1495.7,617.9C1497.9,618.7 1500.0,619.7 1502.2,621.1C1504.3,622.5 1506.4,624.4 1508.6,626.2C1510.7,628.0 1512.9,630.3 1515.0,632.0C1517.2,633.7 1519.3,635.1 1521.4,636.5C1523.6,637.9 1525.7,639.3 1527.9,640.4C1530.0,641.4 1531.1,642.5 1534.3,642.9C1537.5,643.4 1536.1,643.1 1547.1,643.3C1558.0,643.5 1583.0,643.9 1600.0,644.1C1617.1,644.4 1641.2,644.5 1649.4,644.6" stroke="#ff0000" stroke-width="1.6"/>
<path d="M998.6,644.5C1025.8,644.3 1128.0,643.8 1161.5,643.5C1195.1,643.3 1189.3,643.2 1200.0,643.0C1210.7,642.7 1219.3,642.4 1225.7,642.2C1232.1,642.0 1234.7,642.5 1238.6,641.7C1242.4,640.8 1245.4,639.4 1248.9,637.2C1252.3,634.9 1255.7,632.0 1259.1,628.2C1262.6,624.3 1266.4,618.9 1269.4,614.0C1272.4,609.1 1274.6,604.6 1277.1,598.6C1279.7,592.6 1282.3,585.5 1284.9,578.0C1287.4,570.5 1290.0,562.1 1292.6,553.6C1295.1,545.0 1297.9,535.1 1300.3,526.6C1302.7,518.0 1304.9,509.3 1306.9,502.2C1308.8,495.1 1310.8,487.7 1311.9,483.8C1312.9,479.9 1312.1,482.9 1313.1,479.1C1314.1,475.2 1316.2,467.3 1317.9,460.6C1319.6,453.9 1321.7,446.8 1323.4,438.9C1325.2,431.0 1326.9,421.7 1328.6,413.2C1330.3,404.6 1332.2,395.6 1333.7,387.4C1335.2,379.3 1336.3,372.4 1337.6,364.3C1338.9,356.1 1340.4,345.6 1341.4,338.6C1342.5,331.5 1343.3,325.8 1343.8,321.9C1344.4,318.0 1344.1,320.9 1344.7,315.2C1345.3,309.5 1346.5,298.2 1347.6,287.8C1348.7,277.5 1350.0,264.3 1351.1,253.2C1352.2,242.0 1353.2,230.4 1354.3,221.0C1355.4,211.6 1356.4,202.8 1357.5,196.6C1358.6,190.4 1359.8,186.6 1360.7,183.7C1361.7,180.8 1362.5,180.0 1363.3,179.2C1364.0,178.4 1364.6,178.6 1365.2,179.0C1365.9,179.3 1366.3,178.9 1367.1,181.1C1368.0,183.4 1369.3,187.6 1370.4,192.7C1371.4,197.9 1372.4,204.5 1373.6,212.0C1374.8,219.5 1376.1,228.7 1377.4,237.7C1378.7,246.7 1380.1,256.7 1381.4,266.0C1382.7,275.3 1384.4,287.6 1385.3,293.6C1386.1,299.7 1385.5,295.0 1386.5,302.5C1387.5,310.0 1389.8,326.1 1391.5,338.6C1393.2,351.0 1395.0,364.3 1396.7,377.1C1398.4,390.0 1400.1,403.3 1401.9,415.7C1403.6,428.1 1405.9,442.7 1407.3,451.7C1408.7,460.7 1409.5,465.8 1410.2,469.8C1410.8,473.7 1410.3,471.1 1411.1,475.4C1411.9,479.7 1413.5,488.0 1415.0,495.7C1416.4,503.3 1418.2,513.3 1419.9,521.4C1421.5,529.6 1423.3,537.3 1425.0,544.6C1426.7,551.9 1428.4,559.1 1430.1,565.1C1431.9,571.1 1433.6,576.3 1435.3,580.6C1437.0,584.9 1438.7,588.3 1440.4,590.9C1442.1,593.4 1443.9,594.9 1445.6,596.0C1447.3,597.1 1448.8,597.4 1450.7,597.6C1452.6,597.7 1455.0,597.2 1457.1,596.7C1459.3,596.1 1461.4,594.8 1463.6,594.1C1465.7,593.3 1468.1,592.3 1470.0,592.2C1471.9,592.0 1473.4,592.7 1475.1,593.4C1476.9,594.2 1478.6,595.6 1480.3,596.7C1482.0,597.7 1483.5,598.9 1485.4,599.9C1487.4,600.8 1489.7,601.6 1491.9,602.2C1494.0,602.7 1496.2,602.9 1498.3,603.1C1500.4,603.3 1502.6,603.3 1504.7,603.5C1506.9,603.7 1509.2,603.8 1511.2,604.4C1513.1,604.9 1514.6,605.7 1516.3,606.9C1518.0,608.1 1519.4,609.8 1521.3,611.5C1523.3,613.3 1526.6,616.4 1528.1,617.6C1529.5,618.9 1528.9,618.4 1530.0,619.3C1531.1,620.1 1533.2,621.7 1534.7,622.9C1536.2,624.0 1537.6,625.3 1539.1,626.1C1540.6,626.9 1542.2,627.5 1543.7,627.8C1545.2,628.1 1546.7,628.1 1548.2,628.0C1549.8,627.9 1551.3,627.5 1552.8,627.2C1554.3,627.0 1555.8,626.5 1557.4,626.5C1558.9,626.4 1560.4,626.5 1561.9,626.9C1563.4,627.2 1565.0,628.1 1566.5,628.8C1568.0,629.4 1569.5,630.2 1571.0,630.7C1572.5,631.2 1574.1,631.6 1575.6,631.8C1577.1,632.0 1578.6,632.0 1580.1,631.8C1581.7,631.6 1583.2,631.2 1584.7,630.7C1586.2,630.2 1587.7,629.3 1589.3,628.8C1590.8,628.2 1592.3,627.6 1593.8,627.2C1595.3,626.9 1596.9,626.7 1598.4,626.7C1599.9,626.7 1601.4,627.0 1602.9,627.2C1604.5,627.5 1605.7,628.0 1607.5,628.4C1609.3,628.8 1611.3,629.1 1613.6,629.5C1615.9,630.0 1618.6,630.5 1621.2,631.0C1623.7,631.6 1626.2,632.1 1628.8,632.9C1631.3,633.8 1634.1,635.1 1636.4,636.0C1638.6,636.9 1640.2,637.6 1642.4,638.3C1644.7,638.9 1648.5,639.5 1649.7,639.8" stroke="#ff00ff" stroke-width="1.6"/>
<path d="M998.6,641.2C1002.3,640.7 1012.7,639.0 1020.7,638.3C1028.7,637.6 1037.9,637.2 1046.4,637.0C1055.0,636.9 1064.6,637.6 1072.1,637.3C1079.6,637.0 1085.0,635.5 1091.4,635.4C1097.9,635.3 1105.4,636.5 1110.7,636.7C1116.1,636.8 1119.3,636.4 1123.6,636.0C1127.9,635.6 1132.2,634.9 1136.4,634.1C1140.7,633.2 1145.0,632.2 1149.3,630.9C1153.6,629.6 1157.9,628.1 1162.2,626.4C1166.4,624.7 1170.6,622.7 1175.0,620.6C1179.4,618.5 1184.9,615.5 1188.3,613.8C1191.8,612.1 1193.9,611.2 1195.8,610.3C1197.8,609.5 1197.2,609.7 1200.0,608.7C1202.7,607.7 1208.4,605.6 1212.3,604.1C1216.1,602.7 1219.6,602.3 1223.1,599.9C1226.7,597.4 1230.0,593.2 1233.4,589.6C1236.9,585.9 1240.3,581.7 1243.7,578.0C1247.1,574.4 1251.0,570.7 1254.0,567.7C1257.0,564.7 1259.1,563.4 1261.7,560.0C1264.3,556.6 1266.9,553.1 1269.4,547.1C1272.0,541.1 1274.8,531.7 1277.1,524.0C1279.5,516.3 1281.4,507.7 1283.6,500.9C1285.7,494.0 1288.1,486.9 1290.0,482.9C1291.9,478.8 1293.8,477.7 1295.1,476.4C1296.5,475.2 1297.3,475.3 1298.4,475.4C1299.4,475.5 1300.0,475.6 1301.6,477.1C1303.2,478.5 1305.6,481.3 1308.0,484.1C1310.4,487.0 1313.2,491.5 1315.7,494.4C1318.3,497.3 1320.9,499.5 1323.4,501.5C1326.0,503.5 1328.9,505.6 1331.2,506.6C1333.4,507.7 1335.0,508.0 1336.9,507.9C1338.9,507.8 1340.9,507.6 1342.7,506.0C1344.5,504.4 1346.5,501.5 1347.9,498.3C1349.2,495.0 1349.8,490.8 1350.8,486.5C1351.8,482.2 1353.0,476.7 1353.9,472.4C1354.7,468.1 1354.9,467.0 1355.8,460.7C1356.7,454.5 1358.0,444.6 1359.2,435.0C1360.5,425.3 1362.2,412.5 1363.3,402.9C1364.4,393.2 1365.0,385.7 1365.9,377.1C1366.7,368.6 1367.6,360.0 1368.4,351.4C1369.3,342.9 1370.2,333.6 1371.0,325.7C1371.9,317.8 1372.5,311.2 1373.3,303.9C1374.1,296.5 1374.7,290.5 1375.7,281.5C1376.7,272.4 1378.3,258.4 1379.3,249.4C1380.4,240.4 1381.1,232.5 1381.9,227.4C1382.8,222.4 1383.8,220.7 1384.5,219.1C1385.3,217.4 1385.8,217.4 1386.4,217.5C1387.1,217.6 1387.5,216.8 1388.4,219.7C1389.2,222.7 1390.5,228.7 1391.6,235.1C1392.6,241.6 1393.7,250.2 1394.8,258.3C1395.9,266.4 1397.3,276.5 1398.4,284.0C1399.4,291.4 1400.4,298.5 1401.0,302.8C1401.7,307.1 1401.2,303.9 1402.0,309.9C1402.8,315.9 1404.4,327.4 1405.8,338.6C1407.3,349.8 1409.2,364.3 1410.9,377.1C1412.6,390.0 1414.3,402.9 1416.1,415.7C1417.9,428.6 1420.1,444.6 1421.6,454.2C1423.0,463.9 1423.5,466.8 1424.8,473.7C1426.0,480.6 1427.5,488.1 1429.1,495.7C1430.6,503.2 1432.3,511.1 1434.0,518.9C1435.7,526.6 1437.4,534.7 1439.1,542.0C1440.9,549.3 1442.6,556.1 1444.3,562.6C1446.0,569.0 1447.7,575.2 1449.4,580.6C1451.1,585.9 1452.9,590.4 1454.6,594.7C1456.3,599.0 1458.0,602.9 1459.7,606.3C1461.4,609.7 1463.1,612.7 1464.9,615.3C1466.6,617.9 1468.1,619.7 1470.0,621.7C1471.9,623.8 1474.3,625.8 1476.4,627.5C1478.6,629.2 1480.5,630.7 1482.9,632.0C1485.2,633.3 1488.0,634.4 1490.6,635.2C1493.2,636.1 1495.3,636.6 1498.3,637.2C1501.3,637.7 1504.7,638.3 1508.6,638.7C1512.4,639.1 1517.2,639.3 1521.5,639.6C1525.8,639.9 1531.1,640.2 1534.3,640.4C1537.5,640.6 1537.5,640.6 1540.6,640.8C1543.7,641.0 1548.8,641.3 1552.8,641.6C1556.7,641.9 1560.4,642.2 1564.2,642.4C1568.0,642.7 1561.3,643.0 1575.6,643.2C1589.8,643.4 1637.3,643.5 1649.7,643.6" stroke="#0000ff" stroke-width="1.6"/>
<path d="M998.6,644.0C1013.0,643.9 1066.3,644.2 1085.0,643.7C1103.7,643.3 1102.1,641.8 1110.7,641.2C1119.3,640.5 1128.9,640.6 1136.4,639.9C1143.9,639.1 1150.4,637.9 1155.7,636.7C1161.1,635.4 1164.3,633.8 1168.6,632.2C1172.9,630.5 1177.6,628.2 1181.5,626.6C1185.5,625.0 1189.1,623.7 1192.2,622.7C1195.3,621.7 1196.7,621.3 1200.1,620.6C1203.6,619.8 1209.0,618.9 1212.8,618.2C1216.7,617.6 1219.7,618.1 1223.1,616.6C1226.6,615.0 1230.0,612.3 1233.4,608.9C1236.9,605.4 1240.7,600.7 1243.7,596.0C1246.7,591.3 1248.9,586.2 1251.4,580.6C1254.0,575.0 1256.6,567.9 1259.1,562.6C1261.7,557.2 1264.3,552.3 1266.9,548.4C1269.4,544.6 1272.0,541.7 1274.6,539.4C1277.1,537.2 1279.7,535.9 1282.3,534.9C1284.9,534.0 1287.4,533.8 1290.0,533.6C1292.6,533.5 1295.1,533.8 1297.7,534.3C1300.3,534.8 1302.9,536.0 1305.4,536.9C1308.0,537.7 1310.2,538.6 1313.2,539.2C1316.2,539.8 1320.4,540.6 1323.4,540.5C1326.4,540.3 1328.6,539.6 1331.2,538.1C1333.7,536.7 1336.3,534.5 1338.9,531.7C1341.4,528.9 1344.0,525.7 1346.6,521.4C1349.2,517.1 1351.5,511.0 1354.3,506.0C1357.1,501.0 1360.4,495.6 1363.1,491.2C1365.9,486.8 1367.9,483.8 1370.8,479.8C1373.7,475.7 1377.8,470.5 1380.6,467.0C1383.3,463.5 1384.7,461.9 1387.2,459.0C1389.7,456.0 1392.8,453.4 1395.4,449.2C1398.1,444.9 1400.8,439.3 1403.1,433.7C1405.5,428.2 1407.6,421.5 1409.6,415.7C1411.5,409.9 1413.0,405.0 1414.7,399.0C1416.4,393.0 1418.1,385.1 1419.9,379.7C1421.6,374.4 1423.4,370.0 1425.0,366.9C1426.6,363.8 1428.0,362.3 1429.5,361.1C1431.0,359.9 1432.6,359.4 1434.0,359.5C1435.4,359.6 1436.6,360.1 1437.9,361.7C1439.1,363.4 1440.4,366.0 1441.7,369.4C1443.0,372.9 1444.3,377.1 1445.6,382.3C1446.9,387.4 1448.1,394.1 1449.4,400.3C1450.7,406.5 1452.0,412.9 1453.3,419.6C1454.6,426.2 1455.8,433.3 1457.1,440.2C1458.3,447.0 1460.0,455.8 1460.9,460.7C1461.8,465.7 1461.5,464.1 1462.7,469.9C1463.9,475.7 1466.6,488.0 1468.2,495.5C1469.8,503.1 1471.0,509.4 1472.6,515.0C1474.2,520.6 1476.0,525.3 1477.7,529.1C1479.4,533.0 1480.9,535.6 1482.9,538.1C1484.8,540.7 1487.1,542.8 1489.3,544.6C1491.4,546.4 1493.6,547.8 1495.7,549.1C1497.9,550.4 1500.0,551.0 1502.2,552.3C1504.3,553.6 1506.4,555.1 1508.6,556.8C1510.7,558.5 1512.9,560.1 1515.0,562.6C1517.2,565.0 1519.3,568.3 1521.4,571.6C1523.6,574.8 1525.5,578.3 1527.7,581.9C1529.9,585.6 1532.7,590.2 1534.6,593.2C1536.5,596.3 1537.5,597.9 1539.0,600.3C1540.6,602.8 1542.3,605.4 1543.8,607.8C1545.3,610.2 1546.7,612.5 1548.2,614.7C1549.7,616.9 1551.3,618.9 1552.8,620.8C1554.3,622.7 1555.8,624.4 1557.4,626.1C1558.9,627.8 1560.4,629.6 1561.9,631.0C1563.4,632.4 1565.0,633.4 1566.5,634.5C1568.0,635.5 1569.5,636.6 1571.0,637.5C1572.5,638.4 1573.8,639.1 1575.6,639.8C1577.4,640.5 1579.6,641.2 1581.7,641.7C1583.7,642.2 1585.5,642.5 1587.7,642.8C1590.0,643.1 1592.3,643.4 1595.3,643.6C1598.4,643.7 1596.9,643.7 1606.0,643.7C1615.0,643.7 1642.4,643.6 1649.7,643.6" stroke="#00ff00" stroke-width="1.6"/>
<path d="M998.6,644.4C1013.0,644.3 1067.4,644.8 1085.0,644.1C1102.6,643.5 1098.9,641.2 1104.3,640.5C1109.7,639.8 1112.9,640.0 1117.2,640.1C1121.4,640.3 1124.7,641.1 1130.0,641.4C1135.4,641.8 1141.8,642.0 1149.3,642.2C1156.8,642.3 1167.5,642.3 1175.0,642.3C1182.5,642.3 1190.1,642.2 1194.3,642.1C1198.5,642.1 1196.9,642.1 1200.0,641.9C1203.1,641.6 1208.5,641.2 1212.8,640.8C1217.1,640.4 1221.4,640.7 1225.7,639.5C1230.0,638.2 1234.3,636.3 1238.6,633.3C1242.9,630.3 1247.6,625.8 1251.4,621.7C1255.3,617.7 1258.3,614.2 1261.7,608.9C1265.1,603.5 1268.6,597.3 1272.0,589.6C1275.4,581.9 1279.3,571.4 1282.3,562.6C1285.3,553.8 1287.7,545.2 1290.0,536.9C1292.4,528.5 1294.5,519.9 1296.4,512.4C1298.4,504.9 1300.4,497.3 1301.8,491.9C1303.1,486.5 1303.5,485.0 1304.7,479.8C1305.9,474.6 1307.6,467.1 1309.0,460.7C1310.5,454.3 1311.8,447.0 1313.2,441.4C1314.5,435.9 1315.5,431.2 1317.0,427.3C1318.5,423.4 1320.4,420.3 1322.2,418.3C1323.9,416.3 1325.6,415.7 1327.3,415.1C1329.0,414.4 1330.7,414.3 1332.4,414.4C1334.2,414.5 1335.9,415.2 1337.6,415.7C1339.3,416.3 1341.2,417.3 1342.7,417.7C1344.2,418.0 1345.2,418.2 1346.6,417.7C1348.0,417.1 1349.6,416.9 1351.1,414.4C1352.6,412.0 1354.2,407.4 1355.6,402.9C1357.0,398.4 1358.2,393.9 1359.4,387.4C1360.7,381.0 1362.0,372.9 1363.3,364.3C1364.6,355.7 1366.0,344.6 1367.1,336.0C1368.3,327.4 1369.1,320.9 1370.1,312.8C1371.1,304.8 1371.9,298.4 1373.1,287.8C1374.3,277.2 1376.0,261.9 1377.4,249.3C1378.7,236.6 1380.0,223.1 1381.3,212.0C1382.6,200.9 1384.0,190.4 1385.1,182.4C1386.3,174.5 1387.4,168.4 1388.4,164.4C1389.3,160.5 1390.2,159.7 1390.9,158.6C1391.7,157.6 1392.2,158.0 1392.9,158.4C1393.5,158.8 1393.9,158.7 1394.8,161.2C1395.6,163.7 1396.8,167.3 1398.0,173.4C1399.2,179.5 1400.6,188.4 1401.9,197.9C1403.1,207.3 1404.2,218.7 1405.4,230.0C1406.6,241.4 1407.9,254.4 1409.1,266.1C1410.2,277.7 1411.4,290.0 1412.4,300.0C1413.3,309.9 1413.8,315.0 1414.8,325.7C1415.9,336.4 1417.3,351.4 1418.6,364.3C1419.8,377.1 1421.1,391.1 1422.4,402.9C1423.8,414.6 1425.3,425.3 1426.5,435.0C1427.7,444.6 1429.0,454.8 1429.8,460.7C1430.5,466.5 1430.2,464.2 1430.9,470.1C1431.6,475.9 1432.9,487.2 1433.8,495.7C1434.8,504.3 1435.5,511.8 1436.6,521.4C1437.7,531.1 1439.1,543.9 1440.4,553.6C1441.7,563.2 1443.0,571.4 1444.3,579.3C1445.6,587.2 1446.9,595.2 1448.1,601.2C1449.4,607.2 1450.7,611.2 1452.0,615.3C1453.3,619.4 1454.4,622.6 1455.9,625.6C1457.4,628.6 1459.1,631.2 1461.0,633.3C1462.9,635.4 1465.1,637.2 1467.4,638.4C1469.8,639.7 1472.1,640.4 1475.1,641.0C1478.1,641.6 1481.6,641.8 1485.4,641.9C1489.3,642.0 1494.4,641.6 1498.3,641.7C1502.2,641.7 1502.6,641.8 1508.6,642.0C1514.6,642.2 1525.7,642.5 1534.3,642.7C1542.9,642.9 1551.0,643.1 1560.4,643.1C1569.8,643.2 1583.2,643.3 1590.8,643.3C1598.4,643.3 1600.9,643.3 1606.0,643.2C1611.0,643.1 1616.1,642.5 1621.2,642.4C1626.2,642.4 1631.6,642.7 1636.4,642.8C1641.1,643.0 1647.5,643.3 1649.7,643.4" stroke="#ffff00" stroke-width="1.65"/>
</g>
<text transform="translate(998.50,680.40) scale(0.9750,1)" font-size="30.7" text-anchor="middle" fill="#262626">-60</text>
<text transform="translate(1107.00,680.40) scale(0.9750,1)" font-size="30.7" text-anchor="middle" fill="#262626">-40</text>
<text transform="translate(1215.50,680.40) scale(0.9750,1)" font-size="30.7" text-anchor="middle" fill="#262626">-20</text>
<text transform="translate(1324.00,680.40) scale(0.9750,1)" font-size="30.7" text-anchor="middle" fill="#262626">0</text>
<text transform="translate(1432.50,680.40) scale(0.9750,1)" font-size="30.7" text-anchor="middle" fill="#262626">20</text>
<text transform="translate(1541.00,680.40) scale(0.9750,1)" font-size="30.7" text-anchor="middle" fill="#262626">40</text>
<text transform="translate(1649.50,680.40) scale(0.9750,1)" font-size="30.7" text-anchor="middle" fill="#262626">60</text>
<text transform="translate(989.90,655.99) scale(0.9750,1)" font-size="30.7" text-anchor="end" fill="#262626">0</text>
<text transform="translate(989.90,572.99) scale(0.9750,1)" font-size="30.7" text-anchor="end" fill="#262626">0.01</text>
<text transform="translate(989.90,489.99) scale(0.9750,1)" font-size="30.7" text-anchor="end" fill="#262626">0.02</text>
<text transform="translate(989.90,406.99) scale(0.9750,1)" font-size="30.7" text-anchor="end" fill="#262626">0.03</text>
<text transform="translate(989.90,323.99) scale(0.9750,1)" font-size="30.7" text-anchor="end" fill="#262626">0.04</text>
<text transform="translate(989.90,240.99) scale(0.9750,1)" font-size="30.7" text-anchor="end" fill="#262626">0.05</text>
<text transform="translate(989.90,157.99) scale(0.9750,1)" font-size="30.7" text-anchor="end" fill="#262626">0.06</text>
<text transform="translate(1082.00,137.00) scale(1.0236,1)" font-size="32.2" text-anchor="start" font-weight="bold" fill="#000">KS-distribution of AOU change</text>
<g><text transform="translate(1180.80,714.50) scale(0.9314,1)" font-size="27.3" fill="#000" stroke="#000" stroke-width="0.45">AOU</text><text transform="translate(1244.40,714.50) scale(1.0262,1)" font-size="27.3" fill="#000" stroke="#000" stroke-width="0.45">anomaly</text><text transform="translate(1360.00,714.50) scale(1.0744,1)" font-size="27.3" fill="#000" stroke="#000" stroke-width="0.45">[umol/kg]</text></g>
<g><text transform="translate(920.80,532.90) rotate(-90) translate(-0.40,0) scale(1.0447,1)" font-size="27.3" fill="#000" stroke="#000" stroke-width="0.45">probability</text><text transform="translate(920.80,532.90) rotate(-90) translate(139.90,0) scale(1.0453,1)" font-size="27.3" fill="#000" stroke="#000" stroke-width="0.45">density</text></g>
<rect x="999.5" y="149.5" width="277.0" height="218.0" fill="#fff" stroke="#262626" stroke-width="1"/>
<line x1="1005.70" y1="166.90" x2="1050.10" y2="166.90" stroke="#000" stroke-width="5.0"/>
<text transform="translate(1054.30,176.50)" font-size="27.0" text-anchor="start" fill="#000" stroke="#000" stroke-width="0.3">Multi-model mean</text>
<line x1="1005.70" y1="197.50" x2="1050.10" y2="197.50" stroke="#f00" stroke-width="1.8"/>
<text transform="translate(1054.30,207.10)" font-size="27.0" text-anchor="start" fill="#000" stroke="#000" stroke-width="0.3">CanESM5</text>
<line x1="1005.70" y1="228.10" x2="1050.10" y2="228.10" stroke="#ff40ff" stroke-width="1.8"/>
<text transform="translate(1054.30,237.70)" font-size="27.0" text-anchor="start" fill="#000" stroke="#000" stroke-width="0.3">EC-Earth3-CC</text>
<line x1="1005.70" y1="258.70" x2="1050.10" y2="258.70" stroke="#00f" stroke-width="1.8"/>
<text transform="translate(1054.30,268.30)" font-size="27.0" text-anchor="start" fill="#000" stroke="#000" stroke-width="0.3">MRI-ESM2-0</text>
<line x1="1005.70" y1="289.30" x2="1050.10" y2="289.30" stroke="#2f2" stroke-width="1.8"/>
<text transform="translate(1054.30,298.90)" font-size="27.0" text-anchor="start" fill="#000" stroke="#000" stroke-width="0.3">NorESM2-LM</text>
<line x1="1005.70" y1="319.90" x2="1050.10" y2="319.90" stroke="#ff0" stroke-width="1.8"/>
<text transform="translate(1054.30,329.50)" font-size="27.0" text-anchor="start" fill="#000" stroke="#000" stroke-width="0.3">UKESM1-0-LL</text>
<line x1="1005.70" y1="350.50" x2="1050.10" y2="350.50" stroke="#1a1a1a" stroke-width="0.9"/>
<text transform="translate(1054.30,360.10)" font-size="27.0" text-anchor="start" fill="#000" stroke="#000" stroke-width="0.3">FOCI-MOPS</text>
</g>
<g id="panel-c">
<g shape-rendering="crispEdges">
<rect x="182.92" y="807.17" width="10.26" height="1.87" fill="#E6E6E6"/>
<rect x="665.35" y="807.17" width="10.26" height="1.87" fill="#F0E6E2"/>
<rect x="706.41" y="807.17" width="10.26" height="1.87" fill="#E6E6E6"/>
<rect x="716.68" y="807.17" width="10.26" height="1.87" fill="#F0E6E2"/>
<rect x="111.06" y="809.05" width="10.26" height="2.81" fill="#9CBBC7"/>
<rect x="182.92" y="809.05" width="10.26" height="2.81" fill="#66A1BF"/>
<rect x="470.33" y="809.05" width="10.26" height="2.81" fill="#F0E6E2"/>
<rect x="501.12" y="809.05" width="10.26" height="2.81" fill="#E6E6E6"/>
<rect x="665.35" y="809.05" width="30.79" height="2.81" fill="#F0E6E2"/>
<rect x="716.68" y="809.05" width="10.26" height="2.81" fill="#F0E6E2"/>
<rect x="172.65" y="811.86" width="10.26" height="3.12" fill="#9CBBC7"/>
<rect x="182.92" y="811.86" width="20.53" height="3.12" fill="#82AEC2"/>
<rect x="223.98" y="811.86" width="20.53" height="3.12" fill="#82AEC2"/>
<rect x="254.77" y="811.86" width="10.26" height="3.12" fill="#9CBBC7"/>
<rect x="470.33" y="811.86" width="10.26" height="3.12" fill="#F0E6E2"/>
<rect x="531.91" y="811.86" width="10.26" height="3.12" fill="#D0D8DE"/>
<rect x="634.56" y="811.86" width="20.53" height="3.12" fill="#F0E6E2"/>
<rect x="685.88" y="811.86" width="20.53" height="3.12" fill="#F0E6E2"/>
<rect x="100.80" y="814.98" width="10.26" height="3.12" fill="#B5C9D0"/>
<rect x="111.06" y="814.98" width="10.26" height="3.12" fill="#9CBBC7"/>
<rect x="121.33" y="814.98" width="10.26" height="3.12" fill="#66A1BF"/>
<rect x="141.86" y="814.98" width="10.26" height="3.12" fill="#82AEC2"/>
<rect x="152.12" y="814.98" width="51.32" height="3.12" fill="#66A1BF"/>
<rect x="213.71" y="814.98" width="30.79" height="3.12" fill="#66A1BF"/>
<rect x="275.30" y="814.98" width="10.26" height="3.12" fill="#D0D8DE"/>
<rect x="285.56" y="814.98" width="10.26" height="3.12" fill="#F0E6E2"/>
<rect x="439.53" y="814.98" width="30.79" height="3.12" fill="#F0E6E2"/>
<rect x="490.86" y="814.98" width="10.26" height="3.12" fill="#E6E6E6"/>
<rect x="521.65" y="814.98" width="20.53" height="3.12" fill="#B5C9D0"/>
<rect x="583.24" y="814.98" width="20.53" height="3.12" fill="#EAD3CA"/>
<rect x="634.56" y="814.98" width="10.26" height="3.12" fill="#F0E6E2"/>
<rect x="644.82" y="814.98" width="10.26" height="3.12" fill="#EAD3CA"/>
<rect x="665.35" y="814.98" width="20.53" height="3.12" fill="#EAD3CA"/>
<rect x="685.88" y="814.98" width="10.26" height="3.12" fill="#E4BFB2"/>
<rect x="696.15" y="814.98" width="30.79" height="3.12" fill="#EAD3CA"/>
<rect x="726.94" y="814.98" width="10.26" height="3.12" fill="#F0E6E2"/>
<rect x="172.65" y="818.10" width="10.26" height="3.12" fill="#66A1BF"/>
<rect x="470.33" y="818.10" width="10.26" height="3.12" fill="#F0E6E2"/>
<rect x="685.88" y="818.10" width="10.26" height="3.12" fill="#E4BFB2"/>
<rect x="726.94" y="818.10" width="10.26" height="3.12" fill="#E4BFB2"/>
<rect x="737.21" y="818.10" width="10.26" height="3.12" fill="#DDAB9A"/>
<rect x="100.80" y="821.22" width="10.26" height="4.83" fill="#66A1BF"/>
<rect x="111.06" y="821.22" width="10.26" height="4.83" fill="#9CBBC7"/>
<rect x="121.33" y="821.22" width="10.26" height="4.83" fill="#66A1BF"/>
<rect x="141.86" y="821.22" width="51.32" height="4.83" fill="#66A1BF"/>
<rect x="193.18" y="821.22" width="10.26" height="4.83" fill="#D0D8DE"/>
<rect x="203.45" y="821.22" width="10.26" height="4.83" fill="#B5C9D0"/>
<rect x="223.98" y="821.22" width="10.26" height="4.83" fill="#66A1BF"/>
<rect x="254.77" y="821.22" width="10.26" height="4.83" fill="#66A1BF"/>
<rect x="295.83" y="821.22" width="10.26" height="4.83" fill="#EAD3CA"/>
<rect x="316.36" y="821.22" width="10.26" height="4.83" fill="#DDAB9A"/>
<rect x="439.53" y="821.22" width="10.26" height="4.83" fill="#F0E6E2"/>
<rect x="460.06" y="821.22" width="20.53" height="4.83" fill="#F0E6E2"/>
<rect x="490.86" y="821.22" width="10.26" height="4.83" fill="#D0D8DE"/>
<rect x="501.12" y="821.22" width="10.26" height="4.83" fill="#9CBBC7"/>
<rect x="572.97" y="821.22" width="10.26" height="4.83" fill="#E6E6E6"/>
<rect x="583.24" y="821.22" width="20.53" height="4.83" fill="#E4BFB2"/>
<rect x="624.30" y="821.22" width="10.26" height="4.83" fill="#9CBBC7"/>
<rect x="634.56" y="821.22" width="10.26" height="4.83" fill="#F0E6E2"/>
<rect x="644.82" y="821.22" width="10.26" height="4.83" fill="#D69782"/>
<rect x="665.35" y="821.22" width="10.26" height="4.83" fill="#E4BFB2"/>
<rect x="675.62" y="821.22" width="10.26" height="4.83" fill="#CE8168"/>
<rect x="696.15" y="821.22" width="10.26" height="4.83" fill="#D69782"/>
<rect x="706.41" y="821.22" width="10.26" height="4.83" fill="#DDAB9A"/>
<rect x="716.68" y="821.22" width="30.79" height="4.83" fill="#D69782"/>
<rect x="111.06" y="826.05" width="10.26" height="6.45" fill="#66A1BF"/>
<rect x="172.65" y="826.05" width="30.79" height="6.45" fill="#66A1BF"/>
<rect x="234.24" y="826.05" width="10.26" height="6.45" fill="#66A1BF"/>
<rect x="254.77" y="826.05" width="10.26" height="6.45" fill="#66A1BF"/>
<rect x="265.03" y="826.05" width="10.26" height="6.45" fill="#82AEC2"/>
<rect x="295.83" y="826.05" width="10.26" height="6.45" fill="#F0E6E2"/>
<rect x="306.09" y="826.05" width="10.26" height="6.45" fill="#DDAB9A"/>
<rect x="316.36" y="826.05" width="41.06" height="6.45" fill="#E4BFB2"/>
<rect x="357.42" y="826.05" width="10.26" height="6.45" fill="#EAD3CA"/>
<rect x="439.53" y="826.05" width="10.26" height="6.45" fill="#EAD3CA"/>
<rect x="449.80" y="826.05" width="10.26" height="6.45" fill="#F0E6E2"/>
<rect x="460.06" y="826.05" width="10.26" height="6.45" fill="#EAD3CA"/>
<rect x="470.33" y="826.05" width="10.26" height="6.45" fill="#F0E6E2"/>
<rect x="490.86" y="826.05" width="10.26" height="6.45" fill="#E6E6E6"/>
<rect x="501.12" y="826.05" width="10.26" height="6.45" fill="#66A1BF"/>
<rect x="511.38" y="826.05" width="10.26" height="6.45" fill="#EAD3CA"/>
<rect x="521.65" y="826.05" width="20.53" height="6.45" fill="#66A1BF"/>
<rect x="542.18" y="826.05" width="10.26" height="6.45" fill="#4C92BD"/>
<rect x="562.71" y="826.05" width="10.26" height="6.45" fill="#B5C9D0"/>
<rect x="572.97" y="826.05" width="10.26" height="6.45" fill="#9CBBC7"/>
<rect x="583.24" y="826.05" width="10.26" height="6.45" fill="#66A1BF"/>
<rect x="593.50" y="826.05" width="10.26" height="6.45" fill="#D0D8DE"/>
<rect x="603.77" y="826.05" width="10.26" height="6.45" fill="#E4BFB2"/>
<rect x="624.30" y="826.05" width="10.26" height="6.45" fill="#F0E6E2"/>
<rect x="634.56" y="826.05" width="10.26" height="6.45" fill="#E4BFB2"/>
<rect x="644.82" y="826.05" width="10.26" height="6.45" fill="#D69782"/>
<rect x="655.09" y="826.05" width="10.26" height="6.45" fill="#EAD3CA"/>
<rect x="665.35" y="826.05" width="41.06" height="6.45" fill="#CE8168"/>
<rect x="706.41" y="826.05" width="10.26" height="6.45" fill="#D69782"/>
<rect x="716.68" y="826.05" width="20.53" height="6.45" fill="#CE8168"/>
<rect x="100.80" y="832.50" width="20.53" height="6.45" fill="#4C92BD"/>
<rect x="193.18" y="832.50" width="10.26" height="6.45" fill="#4C92BD"/>
<rect x="223.98" y="832.50" width="30.79" height="6.45" fill="#66A1BF"/>
<rect x="265.03" y="832.50" width="10.26" height="6.45" fill="#9CBBC7"/>
<rect x="275.30" y="832.50" width="10.26" height="6.45" fill="#B5C9D0"/>
<rect x="285.56" y="832.50" width="10.26" height="6.45" fill="#D0D8DE"/>
<rect x="306.09" y="832.50" width="10.26" height="6.45" fill="#E6E6E6"/>
<rect x="357.42" y="832.50" width="10.26" height="6.45" fill="#E4BFB2"/>
<rect x="377.94" y="832.50" width="10.26" height="6.45" fill="#F0E6E2"/>
<rect x="388.21" y="832.50" width="10.26" height="6.45" fill="#EAD3CA"/>
<rect x="408.74" y="832.50" width="20.53" height="6.45" fill="#EAD3CA"/>
<rect x="439.53" y="832.50" width="10.26" height="6.45" fill="#EAD3CA"/>
<rect x="449.80" y="832.50" width="10.26" height="6.45" fill="#F0E6E2"/>
<rect x="460.06" y="832.50" width="10.26" height="6.45" fill="#EAD3CA"/>
<rect x="470.33" y="832.50" width="10.26" height="6.45" fill="#E6E6E6"/>
<rect x="490.86" y="832.50" width="20.53" height="6.45" fill="#66A1BF"/>
<rect x="521.65" y="832.50" width="10.26" height="6.45" fill="#3683BC"/>
<rect x="593.50" y="832.50" width="10.26" height="6.45" fill="#B5C9D0"/>
<rect x="603.77" y="832.50" width="10.26" height="6.45" fill="#CE8168"/>
<rect x="634.56" y="832.50" width="10.26" height="6.45" fill="#9CBBC7"/>
<rect x="675.62" y="832.50" width="41.06" height="6.45" fill="#CE8168"/>
<rect x="737.21" y="832.50" width="10.26" height="6.45" fill="#CE8168"/>
<rect x="111.06" y="838.95" width="10.26" height="9.47" fill="#4C92BD"/>
<rect x="141.86" y="838.95" width="10.26" height="9.47" fill="#4C92BD"/>
<rect x="182.92" y="838.95" width="10.26" height="9.47" fill="#4C92BD"/>
<rect x="203.45" y="838.95" width="10.26" height="9.47" fill="#4C92BD"/>
<rect x="223.98" y="838.95" width="30.79" height="9.47" fill="#66A1BF"/>
<rect x="265.03" y="838.95" width="20.53" height="9.47" fill="#B5C9D0"/>
<rect x="285.56" y="838.95" width="10.26" height="9.47" fill="#E6E6E6"/>
<rect x="295.83" y="838.95" width="10.26" height="9.47" fill="#EAD3CA"/>
<rect x="306.09" y="838.95" width="10.26" height="9.47" fill="#F0E6E2"/>
<rect x="316.36" y="838.95" width="10.26" height="9.47" fill="#DDAB9A"/>
<rect x="326.62" y="838.95" width="10.26" height="9.47" fill="#E6E6E6"/>
<rect x="336.89" y="838.95" width="10.26" height="9.47" fill="#CE8168"/>
<rect x="347.15" y="838.95" width="10.26" height="9.47" fill="#DDAB9A"/>
<rect x="357.42" y="838.95" width="10.26" height="9.47" fill="#E4BFB2"/>
<rect x="367.68" y="838.95" width="10.26" height="9.47" fill="#DDAB9A"/>
<rect x="377.94" y="838.95" width="10.26" height="9.47" fill="#EAD3CA"/>
<rect x="388.21" y="838.95" width="10.26" height="9.47" fill="#F0E6E2"/>
<rect x="398.47" y="838.95" width="20.53" height="9.47" fill="#EAD3CA"/>
<rect x="419.00" y="838.95" width="20.53" height="9.47" fill="#E4BFB2"/>
<rect x="439.53" y="838.95" width="20.53" height="9.47" fill="#EAD3CA"/>
<rect x="460.06" y="838.95" width="10.26" height="9.47" fill="#E4BFB2"/>
<rect x="470.33" y="838.95" width="10.26" height="9.47" fill="#F0E6E2"/>
<rect x="490.86" y="838.95" width="10.26" height="9.47" fill="#9CBBC7"/>
<rect x="501.12" y="838.95" width="10.26" height="9.47" fill="#4C92BD"/>
<rect x="511.38" y="838.95" width="10.26" height="9.47" fill="#DDAB9A"/>
<rect x="521.65" y="838.95" width="10.26" height="9.47" fill="#4C92BD"/>
<rect x="531.91" y="838.95" width="10.26" height="9.47" fill="#3683BC"/>
<rect x="542.18" y="838.95" width="10.26" height="9.47" fill="#DDAB9A"/>
<rect x="562.71" y="838.95" width="10.26" height="9.47" fill="#1F74BC"/>
<rect x="572.97" y="838.95" width="10.26" height="9.47" fill="#E6E6E6"/>
<rect x="583.24" y="838.95" width="10.26" height="9.47" fill="#82AEC2"/>
<rect x="593.50" y="838.95" width="10.26" height="9.47" fill="#9CBBC7"/>
<rect x="603.77" y="838.95" width="10.26" height="9.47" fill="#CE8168"/>
<rect x="614.03" y="838.95" width="10.26" height="9.47" fill="#C66B4E"/>
<rect x="624.30" y="838.95" width="10.26" height="9.47" fill="#EAD3CA"/>
<rect x="634.56" y="838.95" width="10.26" height="9.47" fill="#E4BFB2"/>
<rect x="644.82" y="838.95" width="10.26" height="9.47" fill="#DDAB9A"/>
<rect x="655.09" y="838.95" width="10.26" height="9.47" fill="#CE8168"/>
<rect x="665.35" y="838.95" width="10.26" height="9.47" fill="#C66B4E"/>
<rect x="675.62" y="838.95" width="61.59" height="9.47" fill="#CE8168"/>
<rect x="234.24" y="848.42" width="10.26" height="12.49" fill="#66A1BF"/>
<rect x="244.50" y="848.42" width="10.26" height="12.49" fill="#D0D8DE"/>
<rect x="254.77" y="848.42" width="10.26" height="12.49" fill="#B5C9D0"/>
<rect x="265.03" y="848.42" width="10.26" height="12.49" fill="#F0E6E2"/>
<rect x="275.30" y="848.42" width="10.26" height="12.49" fill="#EAD3CA"/>
<rect x="285.56" y="848.42" width="20.53" height="12.49" fill="#CE8168"/>
<rect x="306.09" y="848.42" width="10.26" height="12.49" fill="#DDAB9A"/>
<rect x="316.36" y="848.42" width="20.53" height="12.49" fill="#D69782"/>
<rect x="336.89" y="848.42" width="10.26" height="12.49" fill="#C66B4E"/>
<rect x="347.15" y="848.42" width="10.26" height="12.49" fill="#D0D8DE"/>
<rect x="357.42" y="848.42" width="10.26" height="12.49" fill="#D69782"/>
<rect x="377.94" y="848.42" width="10.26" height="12.49" fill="#E6E6E6"/>
<rect x="388.21" y="848.42" width="10.26" height="12.49" fill="#DDAB9A"/>
<rect x="398.47" y="848.42" width="10.26" height="12.49" fill="#D69782"/>
<rect x="408.74" y="848.42" width="10.26" height="12.49" fill="#F0E6E2"/>
<rect x="419.00" y="848.42" width="10.26" height="12.49" fill="#E4BFB2"/>
<rect x="429.27" y="848.42" width="10.26" height="12.49" fill="#DDAB9A"/>
<rect x="439.53" y="848.42" width="10.26" height="12.49" fill="#E6E6E6"/>
<rect x="449.80" y="848.42" width="10.26" height="12.49" fill="#66A1BF"/>
<rect x="460.06" y="848.42" width="10.26" height="12.49" fill="#F0E6E2"/>
<rect x="470.33" y="848.42" width="10.26" height="12.49" fill="#B5C9D0"/>
<rect x="480.59" y="848.42" width="10.26" height="12.49" fill="#CE8168"/>
<rect x="490.86" y="848.42" width="10.26" height="12.49" fill="#66A1BF"/>
<rect x="501.12" y="848.42" width="10.26" height="12.49" fill="#4C92BD"/>
<rect x="511.38" y="848.42" width="10.26" height="12.49" fill="#CE8168"/>
<rect x="521.65" y="848.42" width="10.26" height="12.49" fill="#3683BC"/>
<rect x="531.91" y="848.42" width="10.26" height="12.49" fill="#4C92BD"/>
<rect x="542.18" y="848.42" width="10.26" height="12.49" fill="#D69782"/>
<rect x="562.71" y="848.42" width="10.26" height="12.49" fill="#3683BC"/>
<rect x="572.97" y="848.42" width="10.26" height="12.49" fill="#66A1BF"/>
<rect x="583.24" y="848.42" width="10.26" height="12.49" fill="#EAD3CA"/>
<rect x="593.50" y="848.42" width="10.26" height="12.49" fill="#E4BFB2"/>
<rect x="603.77" y="848.42" width="10.26" height="12.49" fill="#CE8168"/>
<rect x="614.03" y="848.42" width="10.26" height="12.49" fill="#C66B4E"/>
<rect x="624.30" y="848.42" width="10.26" height="12.49" fill="#66A1BF"/>
<rect x="634.56" y="848.42" width="10.26" height="12.49" fill="#CE8168"/>
<rect x="644.82" y="848.42" width="10.26" height="12.49" fill="#E4BFB2"/>
<rect x="655.09" y="848.42" width="10.26" height="12.49" fill="#B5C9D0"/>
<rect x="665.35" y="848.42" width="10.26" height="12.49" fill="#C66B4E"/>
<rect x="675.62" y="848.42" width="41.06" height="12.49" fill="#CE8168"/>
<rect x="716.68" y="848.42" width="10.26" height="12.49" fill="#DDAB9A"/>
<rect x="726.94" y="848.42" width="10.26" height="12.49" fill="#CE8168"/>
<rect x="234.24" y="860.91" width="20.53" height="12.49" fill="#66A1BF"/>
<rect x="265.03" y="860.91" width="10.26" height="12.49" fill="#DDAB9A"/>
<rect x="275.30" y="860.91" width="10.26" height="12.49" fill="#E4BFB2"/>
<rect x="285.56" y="860.91" width="20.53" height="12.49" fill="#CE8168"/>
<rect x="306.09" y="860.91" width="10.26" height="12.49" fill="#DDAB9A"/>
<rect x="316.36" y="860.91" width="10.26" height="12.49" fill="#CE8168"/>
<rect x="326.62" y="860.91" width="10.26" height="12.49" fill="#F0E6E2"/>
<rect x="347.15" y="860.91" width="20.53" height="12.49" fill="#E4BFB2"/>
<rect x="367.68" y="860.91" width="10.26" height="12.49" fill="#CE8168"/>
<rect x="377.94" y="860.91" width="10.26" height="12.49" fill="#82AEC2"/>
<rect x="388.21" y="860.91" width="10.26" height="12.49" fill="#EAD3CA"/>
<rect x="408.74" y="860.91" width="10.26" height="12.49" fill="#82AEC2"/>
<rect x="419.00" y="860.91" width="10.26" height="12.49" fill="#E6E6E6"/>
<rect x="429.27" y="860.91" width="10.26" height="12.49" fill="#D69782"/>
<rect x="439.53" y="860.91" width="10.26" height="12.49" fill="#66A1BF"/>
<rect x="449.80" y="860.91" width="10.26" height="12.49" fill="#4C92BD"/>
<rect x="460.06" y="860.91" width="10.26" height="12.49" fill="#82AEC2"/>
<rect x="470.33" y="860.91" width="10.26" height="12.49" fill="#66A1BF"/>
<rect x="490.86" y="860.91" width="10.26" height="12.49" fill="#CE8168"/>
<rect x="511.38" y="860.91" width="10.26" height="12.49" fill="#CE8168"/>
<rect x="521.65" y="860.91" width="10.26" height="12.49" fill="#1F74BC"/>
<rect x="531.91" y="860.91" width="10.26" height="12.49" fill="#CE8168"/>
<rect x="542.18" y="860.91" width="10.26" height="12.49" fill="#E6E6E6"/>
<rect x="562.71" y="860.91" width="10.26" height="12.49" fill="#9CBBC7"/>
<rect x="572.97" y="860.91" width="10.26" height="12.49" fill="#66A1BF"/>
<rect x="583.24" y="860.91" width="10.26" height="12.49" fill="#C0543A"/>
<rect x="593.50" y="860.91" width="10.26" height="12.49" fill="#CE8168"/>
<rect x="603.77" y="860.91" width="10.26" height="12.49" fill="#C0543A"/>
<rect x="624.30" y="860.91" width="20.53" height="12.49" fill="#D0D8DE"/>
<rect x="644.82" y="860.91" width="20.53" height="12.49" fill="#DDAB9A"/>
<rect x="675.62" y="860.91" width="10.26" height="12.49" fill="#CE8168"/>
<rect x="685.88" y="860.91" width="10.26" height="12.49" fill="#C66B4E"/>
<rect x="696.15" y="860.91" width="10.26" height="12.49" fill="#CE8168"/>
<rect x="706.41" y="860.91" width="10.26" height="12.49" fill="#C66B4E"/>
<rect x="716.68" y="860.91" width="10.26" height="12.49" fill="#E6E6E6"/>
<rect x="726.94" y="860.91" width="10.26" height="12.49" fill="#D69782"/>
<rect x="737.21" y="860.91" width="10.26" height="12.49" fill="#CE8168"/>
<rect x="244.50" y="873.39" width="10.26" height="12.49" fill="#66A1BF"/>
<rect x="265.03" y="873.39" width="10.26" height="12.49" fill="#D0D8DE"/>
<rect x="275.30" y="873.39" width="10.26" height="12.49" fill="#B5C9D0"/>
<rect x="285.56" y="873.39" width="10.26" height="12.49" fill="#DDAB9A"/>
<rect x="306.09" y="873.39" width="10.26" height="12.49" fill="#CE8168"/>
<rect x="316.36" y="873.39" width="10.26" height="12.49" fill="#D69782"/>
<rect x="326.62" y="873.39" width="10.26" height="12.49" fill="#E4BFB2"/>
<rect x="336.89" y="873.39" width="10.26" height="12.49" fill="#C66B4E"/>
<rect x="347.15" y="873.39" width="10.26" height="12.49" fill="#E4BFB2"/>
<rect x="357.42" y="873.39" width="10.26" height="12.49" fill="#B5C9D0"/>
<rect x="367.68" y="873.39" width="10.26" height="12.49" fill="#C66B4E"/>
<rect x="377.94" y="873.39" width="10.26" height="12.49" fill="#66A1BF"/>
<rect x="388.21" y="873.39" width="10.26" height="12.49" fill="#9CBBC7"/>
<rect x="408.74" y="873.39" width="10.26" height="12.49" fill="#66A1BF"/>
<rect x="429.27" y="873.39" width="10.26" height="12.49" fill="#DDAB9A"/>
<rect x="439.53" y="873.39" width="10.26" height="12.49" fill="#4C92BD"/>
<rect x="460.06" y="873.39" width="10.26" height="12.49" fill="#EAD3CA"/>
<rect x="470.33" y="873.39" width="10.26" height="12.49" fill="#DDAB9A"/>
<rect x="490.86" y="873.39" width="10.26" height="12.49" fill="#66A1BF"/>
<rect x="501.12" y="873.39" width="10.26" height="12.49" fill="#1F74BC"/>
<rect x="511.38" y="873.39" width="10.26" height="12.49" fill="#CE8168"/>
<rect x="531.91" y="873.39" width="10.26" height="12.49" fill="#E4BFB2"/>
<rect x="562.71" y="873.39" width="10.26" height="12.49" fill="#D69782"/>
<rect x="572.97" y="873.39" width="10.26" height="12.49" fill="#66A1BF"/>
<rect x="583.24" y="873.39" width="10.26" height="12.49" fill="#C0543A"/>
<rect x="593.50" y="873.39" width="10.26" height="12.49" fill="#D0D8DE"/>
<rect x="603.77" y="873.39" width="10.26" height="12.49" fill="#CE8168"/>
<rect x="614.03" y="873.39" width="10.26" height="12.49" fill="#C0543A"/>
<rect x="624.30" y="873.39" width="20.53" height="12.49" fill="#C66B4E"/>
<rect x="644.82" y="873.39" width="10.26" height="12.49" fill="#CE8168"/>
<rect x="655.09" y="873.39" width="20.53" height="12.49" fill="#C66B4E"/>
<rect x="675.62" y="873.39" width="10.26" height="12.49" fill="#CE8168"/>
<rect x="685.88" y="873.39" width="10.26" height="12.49" fill="#C66B4E"/>
<rect x="696.15" y="873.39" width="10.26" height="12.49" fill="#CE8168"/>
<rect x="706.41" y="873.39" width="10.26" height="12.49" fill="#DDAB9A"/>
<rect x="716.68" y="873.39" width="10.26" height="12.49" fill="#D0D8DE"/>
<rect x="726.94" y="873.39" width="10.26" height="12.49" fill="#E4BFB2"/>
<rect x="275.30" y="885.88" width="10.26" height="12.49" fill="#66A1BF"/>
<rect x="306.09" y="885.88" width="10.26" height="12.49" fill="#E6E6E6"/>
<rect x="316.36" y="885.88" width="20.53" height="12.49" fill="#E4BFB2"/>
<rect x="347.15" y="885.88" width="10.26" height="12.49" fill="#CE8168"/>
<rect x="367.68" y="885.88" width="10.26" height="12.49" fill="#C66B4E"/>
<rect x="377.94" y="885.88" width="10.26" height="12.49" fill="#82AEC2"/>
<rect x="388.21" y="885.88" width="10.26" height="12.49" fill="#D0D8DE"/>
<rect x="408.74" y="885.88" width="10.26" height="12.49" fill="#66A1BF"/>
<rect x="419.00" y="885.88" width="10.26" height="12.49" fill="#D0D8DE"/>
<rect x="429.27" y="885.88" width="10.26" height="12.49" fill="#CE8168"/>
<rect x="449.80" y="885.88" width="10.26" height="12.49" fill="#E4BFB2"/>
<rect x="460.06" y="885.88" width="20.53" height="12.49" fill="#DDAB9A"/>
<rect x="480.59" y="885.88" width="10.26" height="12.49" fill="#D69782"/>
<rect x="490.86" y="885.88" width="10.26" height="12.49" fill="#66A1BF"/>
<rect x="511.38" y="885.88" width="10.26" height="12.49" fill="#CE8168"/>
<rect x="531.91" y="885.88" width="10.26" height="12.49" fill="#E6E6E6"/>
<rect x="562.71" y="885.88" width="10.26" height="12.49" fill="#4C92BD"/>
<rect x="583.24" y="885.88" width="10.26" height="12.49" fill="#C66B4E"/>
<rect x="593.50" y="885.88" width="10.26" height="12.49" fill="#82AEC2"/>
<rect x="624.30" y="885.88" width="10.26" height="12.49" fill="#CE8168"/>
<rect x="634.56" y="885.88" width="10.26" height="12.49" fill="#C66B4E"/>
<rect x="644.82" y="885.88" width="10.26" height="12.49" fill="#CE8168"/>
<rect x="655.09" y="885.88" width="10.26" height="12.49" fill="#EAD3CA"/>
<rect x="675.62" y="885.88" width="10.26" height="12.49" fill="#C66B4E"/>
<rect x="685.88" y="885.88" width="10.26" height="12.49" fill="#CE8168"/>
<rect x="696.15" y="885.88" width="20.53" height="12.49" fill="#C66B4E"/>
<rect x="716.68" y="885.88" width="20.53" height="12.49" fill="#E4BFB2"/>
<rect x="737.21" y="885.88" width="10.26" height="12.49" fill="#CE8168"/>
<rect x="306.09" y="898.38" width="10.26" height="12.49" fill="#66A1BF"/>
<rect x="316.36" y="898.38" width="10.26" height="12.49" fill="#E6E6E6"/>
<rect x="326.62" y="898.38" width="10.26" height="12.49" fill="#F0E6E2"/>
<rect x="347.15" y="898.38" width="20.53" height="12.49" fill="#66A1BF"/>
<rect x="377.94" y="898.38" width="10.26" height="12.49" fill="#4C92BD"/>
<rect x="388.21" y="898.38" width="10.26" height="12.49" fill="#D0D8DE"/>
<rect x="398.47" y="898.38" width="10.26" height="12.49" fill="#C66B4E"/>
<rect x="408.74" y="898.38" width="20.53" height="12.49" fill="#66A1BF"/>
<rect x="429.27" y="898.38" width="10.26" height="12.49" fill="#CE8168"/>
<rect x="460.06" y="898.38" width="10.26" height="12.49" fill="#D69782"/>
<rect x="480.59" y="898.38" width="20.53" height="12.49" fill="#CE8168"/>
<rect x="511.38" y="898.38" width="10.26" height="12.49" fill="#D69782"/>
<rect x="562.71" y="898.38" width="10.26" height="12.49" fill="#C66B4E"/>
<rect x="572.97" y="898.38" width="10.26" height="12.49" fill="#E4BFB2"/>
<rect x="583.24" y="898.38" width="10.26" height="12.49" fill="#C66B4E"/>
<rect x="593.50" y="898.38" width="10.26" height="12.49" fill="#CE8168"/>
<rect x="614.03" y="898.38" width="10.26" height="12.49" fill="#C0543A"/>
<rect x="624.30" y="898.38" width="10.26" height="12.49" fill="#C66B4E"/>
<rect x="634.56" y="898.38" width="41.06" height="12.49" fill="#C0543A"/>
<rect x="675.62" y="898.38" width="41.06" height="12.49" fill="#C66B4E"/>
<rect x="716.68" y="898.38" width="10.26" height="12.49" fill="#CE8168"/>
<rect x="726.94" y="898.38" width="10.26" height="12.49" fill="#DDAB9A"/>
<rect x="326.62" y="910.87" width="10.26" height="12.49" fill="#66A1BF"/>
<rect x="377.94" y="910.87" width="10.26" height="12.49" fill="#9CBBC7"/>
<rect x="388.21" y="910.87" width="10.26" height="12.49" fill="#66A1BF"/>
<rect x="460.06" y="910.87" width="10.26" height="12.49" fill="#CE8168"/>
<rect x="490.86" y="910.87" width="10.26" height="12.49" fill="#CE8168"/>
<rect x="511.38" y="910.87" width="10.26" height="12.49" fill="#DDAB9A"/>
<rect x="531.91" y="910.87" width="10.26" height="12.49" fill="#D0D8DE"/>
<rect x="542.18" y="910.87" width="10.26" height="12.49" fill="#82AEC2"/>
<rect x="562.71" y="910.87" width="10.26" height="12.49" fill="#CE8168"/>
<rect x="572.97" y="910.87" width="10.26" height="12.49" fill="#E4BFB2"/>
<rect x="583.24" y="910.87" width="10.26" height="12.49" fill="#C0543A"/>
<rect x="593.50" y="910.87" width="10.26" height="12.49" fill="#CE8168"/>
<rect x="603.77" y="910.87" width="10.26" height="12.49" fill="#C66B4E"/>
<rect x="624.30" y="910.87" width="20.53" height="12.49" fill="#C0543A"/>
<rect x="644.82" y="910.87" width="20.53" height="12.49" fill="#C66B4E"/>
<rect x="675.62" y="910.87" width="41.06" height="12.49" fill="#C66B4E"/>
<rect x="726.94" y="910.87" width="10.26" height="12.49" fill="#CE8168"/>
<rect x="501.12" y="923.36" width="10.26" height="12.49" fill="#CE8168"/>
<rect x="511.38" y="923.36" width="10.26" height="12.49" fill="#DDAB9A"/>
<rect x="521.65" y="923.36" width="10.26" height="12.49" fill="#EAD3CA"/>
<rect x="531.91" y="923.36" width="10.26" height="12.49" fill="#E6E6E6"/>
<rect x="542.18" y="923.36" width="10.26" height="12.49" fill="#EAD3CA"/>
<rect x="562.71" y="923.36" width="10.26" height="12.49" fill="#C66B4E"/>
<rect x="572.97" y="923.36" width="10.26" height="12.49" fill="#CE8168"/>
<rect x="583.24" y="923.36" width="10.26" height="12.49" fill="#C0543A"/>
<rect x="593.50" y="923.36" width="10.26" height="12.49" fill="#CE8168"/>
<rect x="614.03" y="923.36" width="10.26" height="12.49" fill="#C66B4E"/>
<rect x="624.30" y="923.36" width="51.32" height="12.49" fill="#C0543A"/>
<rect x="675.62" y="923.36" width="10.26" height="12.49" fill="#C66B4E"/>
<rect x="685.88" y="923.36" width="10.26" height="12.49" fill="#C0543A"/>
<rect x="696.15" y="923.36" width="30.79" height="12.49" fill="#C66B4E"/>
<rect x="726.94" y="923.36" width="10.26" height="12.49" fill="#CE8168"/>
<rect x="511.38" y="935.85" width="10.26" height="12.49" fill="#CE8168"/>
<rect x="531.91" y="935.85" width="20.53" height="12.49" fill="#CE8168"/>
<rect x="562.71" y="935.85" width="10.26" height="12.49" fill="#C0543A"/>
<rect x="572.97" y="935.85" width="10.26" height="12.49" fill="#C66B4E"/>
<rect x="593.50" y="935.85" width="20.53" height="12.49" fill="#C66B4E"/>
<rect x="624.30" y="935.85" width="10.26" height="12.49" fill="#C0543A"/>
<rect x="675.62" y="935.85" width="41.06" height="12.49" fill="#C0543A"/>
<rect x="726.94" y="935.85" width="10.26" height="12.49" fill="#C66B4E"/>
<rect x="449.80" y="948.34" width="10.26" height="12.49" fill="#CE8168"/>
<rect x="511.38" y="948.34" width="10.26" height="12.49" fill="#C66B4E"/>
<rect x="531.91" y="948.34" width="20.53" height="12.49" fill="#C66B4E"/>
<rect x="572.97" y="948.34" width="30.79" height="12.49" fill="#C0543A"/>
<rect x="603.77" y="948.34" width="10.26" height="12.49" fill="#C66B4E"/>
<rect x="614.03" y="948.34" width="102.65" height="12.49" fill="#C0543A"/>
<rect x="716.68" y="948.34" width="20.53" height="12.49" fill="#C66B4E"/>
<rect x="521.65" y="960.83" width="10.26" height="12.49" fill="#C0543A"/>
<rect x="542.18" y="960.83" width="10.26" height="12.49" fill="#B83D2A"/>
<rect x="583.24" y="960.83" width="10.26" height="12.49" fill="#C0543A"/>
<rect x="593.50" y="960.83" width="10.26" height="12.49" fill="#B83D2A"/>
<rect x="624.30" y="960.83" width="10.26" height="12.49" fill="#C0543A"/>
<rect x="644.82" y="960.83" width="10.26" height="12.49" fill="#C0543A"/>
<rect x="675.62" y="960.83" width="41.06" height="12.49" fill="#C0543A"/>
<rect x="716.68" y="960.83" width="20.53" height="12.49" fill="#C66B4E"/>
<rect x="511.38" y="973.32" width="10.26" height="12.49" fill="#B83D2A"/>
<rect x="531.91" y="973.32" width="10.26" height="12.49" fill="#AD2528"/>
<rect x="572.97" y="973.32" width="10.26" height="12.49" fill="#B83D2A"/>
<rect x="583.24" y="973.32" width="10.26" height="12.49" fill="#C0543A"/>
<rect x="593.50" y="973.32" width="10.26" height="12.49" fill="#B83D2A"/>
<rect x="603.77" y="973.32" width="10.26" height="12.49" fill="#AD2528"/>
<rect x="624.30" y="973.32" width="92.38" height="12.49" fill="#C0543A"/>
<rect x="716.68" y="973.32" width="10.26" height="12.49" fill="#C66B4E"/>
<rect x="501.12" y="985.81" width="20.53" height="21.86" fill="#AD2528"/>
<rect x="531.91" y="985.81" width="30.79" height="21.86" fill="#9E142C"/>
<rect x="562.71" y="985.81" width="10.26" height="21.86" fill="#C0543A"/>
<rect x="572.97" y="985.81" width="20.53" height="21.86" fill="#B83D2A"/>
<rect x="593.50" y="985.81" width="20.53" height="21.86" fill="#AD2528"/>
<rect x="614.03" y="985.81" width="102.65" height="21.86" fill="#B83D2A"/>
<rect x="716.68" y="985.81" width="10.26" height="21.86" fill="#C0543A"/>
<rect x="726.94" y="985.81" width="10.26" height="21.86" fill="#C66B4E"/>
<rect x="531.91" y="1007.66" width="10.26" height="31.23" fill="#870E2B"/>
<rect x="562.71" y="1007.66" width="10.26" height="31.23" fill="#AD2528"/>
<rect x="572.97" y="1007.66" width="10.26" height="31.23" fill="#9E142C"/>
<rect x="583.24" y="1007.66" width="10.26" height="31.23" fill="#AD2528"/>
<rect x="593.50" y="1007.66" width="10.26" height="31.23" fill="#870E2B"/>
<rect x="614.03" y="1007.66" width="20.53" height="31.23" fill="#AD2528"/>
<rect x="634.56" y="1007.66" width="10.26" height="31.23" fill="#B83D2A"/>
<rect x="644.82" y="1007.66" width="82.12" height="31.23" fill="#AD2528"/>
<rect x="726.94" y="1007.66" width="10.26" height="31.23" fill="#B83D2A"/>
<rect x="552.44" y="1038.89" width="30.79" height="46.84" fill="#3C0912"/>
<rect x="583.24" y="1038.89" width="10.26" height="46.84" fill="#870E2B"/>
<rect x="593.50" y="1038.89" width="10.26" height="46.84" fill="#3C0912"/>
<rect x="603.77" y="1038.89" width="20.53" height="46.84" fill="#9E142C"/>
<rect x="624.30" y="1038.89" width="41.06" height="46.84" fill="#870E2B"/>
<rect x="665.35" y="1038.89" width="61.59" height="46.84" fill="#6E0F28"/>
<rect x="583.24" y="1085.72" width="133.44" height="62.45" fill="#3C0912"/>
<rect x="706.41" y="1148.17" width="10.26" height="62.45" fill="#3C0912"/>
</g>
<line x1="593.50" y1="986.00" x2="593.50" y2="1085.50" stroke="#ffffff" stroke-width="0.6" stroke-opacity="0.32"/>
<line x1="603.80" y1="986.00" x2="603.80" y2="1085.50" stroke="#ffffff" stroke-width="0.6" stroke-opacity="0.32"/>
<line x1="100.80" y1="804.70" x2="768.00" y2="804.70" stroke="#000" stroke-width="1.25"/>
<line x1="100.80" y1="1304.30" x2="768.00" y2="1304.30" stroke="#000" stroke-width="1.7"/>
<line x1="100.80" y1="794.30" x2="100.80" y2="1314.70" stroke="#000" stroke-width="1.4"/>
<line x1="768.00" y1="794.30" x2="768.00" y2="1314.70" stroke="#000" stroke-width="1.4"/>
<line x1="152.12" y1="794.30" x2="152.12" y2="804.70" stroke="#000" stroke-width="1.4"/>
<line x1="152.12" y1="1304.30" x2="152.12" y2="1314.70" stroke="#000" stroke-width="1.4"/>
<line x1="203.45" y1="794.30" x2="203.45" y2="804.70" stroke="#000" stroke-width="1.4"/>
<line x1="203.45" y1="1304.30" x2="203.45" y2="1314.70" stroke="#000" stroke-width="1.4"/>
<line x1="254.77" y1="794.30" x2="254.77" y2="804.70" stroke="#000" stroke-width="1.4"/>
<line x1="254.77" y1="1304.30" x2="254.77" y2="1314.70" stroke="#000" stroke-width="1.4"/>
<line x1="306.09" y1="794.30" x2="306.09" y2="804.70" stroke="#000" stroke-width="1.4"/>
<line x1="306.09" y1="1304.30" x2="306.09" y2="1314.70" stroke="#000" stroke-width="1.4"/>
<line x1="357.42" y1="794.30" x2="357.42" y2="804.70" stroke="#000" stroke-width="1.4"/>
<line x1="357.42" y1="1304.30" x2="357.42" y2="1314.70" stroke="#000" stroke-width="1.4"/>
<line x1="408.74" y1="794.30" x2="408.74" y2="804.70" stroke="#000" stroke-width="1.4"/>
<line x1="408.74" y1="1304.30" x2="408.74" y2="1314.70" stroke="#000" stroke-width="1.4"/>
<line x1="460.06" y1="794.30" x2="460.06" y2="804.70" stroke="#000" stroke-width="1.4"/>
<line x1="460.06" y1="1304.30" x2="460.06" y2="1314.70" stroke="#000" stroke-width="1.4"/>
<line x1="511.38" y1="794.30" x2="511.38" y2="804.70" stroke="#000" stroke-width="1.4"/>
<line x1="511.38" y1="1304.30" x2="511.38" y2="1314.70" stroke="#000" stroke-width="1.4"/>
<line x1="562.71" y1="794.30" x2="562.71" y2="804.70" stroke="#000" stroke-width="1.4"/>
<line x1="562.71" y1="1304.30" x2="562.71" y2="1314.70" stroke="#000" stroke-width="1.4"/>
<line x1="614.03" y1="794.30" x2="614.03" y2="804.70" stroke="#000" stroke-width="1.4"/>
<line x1="614.03" y1="1304.30" x2="614.03" y2="1314.70" stroke="#000" stroke-width="1.4"/>
<line x1="665.35" y1="794.30" x2="665.35" y2="804.70" stroke="#000" stroke-width="1.4"/>
<line x1="665.35" y1="1304.30" x2="665.35" y2="1314.70" stroke="#000" stroke-width="1.4"/>
<line x1="716.68" y1="794.30" x2="716.68" y2="804.70" stroke="#000" stroke-width="1.4"/>
<line x1="716.68" y1="1304.30" x2="716.68" y2="1314.70" stroke="#000" stroke-width="1.4"/>
<line x1="90.40" y1="867.15" x2="100.80" y2="867.15" stroke="#000" stroke-width="1.4"/>
<line x1="768.00" y1="867.15" x2="778.40" y2="867.15" stroke="#000" stroke-width="1.4"/>
<line x1="90.40" y1="929.60" x2="100.80" y2="929.60" stroke="#000" stroke-width="1.4"/>
<line x1="768.00" y1="929.60" x2="778.40" y2="929.60" stroke="#000" stroke-width="1.4"/>
<line x1="90.40" y1="992.05" x2="100.80" y2="992.05" stroke="#000" stroke-width="1.4"/>
<line x1="768.00" y1="992.05" x2="778.40" y2="992.05" stroke="#000" stroke-width="1.4"/>
<line x1="90.40" y1="1054.50" x2="100.80" y2="1054.50" stroke="#000" stroke-width="1.4"/>
<line x1="768.00" y1="1054.50" x2="778.40" y2="1054.50" stroke="#000" stroke-width="1.4"/>
<line x1="90.40" y1="1116.95" x2="100.80" y2="1116.95" stroke="#000" stroke-width="1.4"/>
<line x1="768.00" y1="1116.95" x2="778.40" y2="1116.95" stroke="#000" stroke-width="1.4"/>
<line x1="90.40" y1="1179.40" x2="100.80" y2="1179.40" stroke="#000" stroke-width="1.4"/>
<line x1="768.00" y1="1179.40" x2="778.40" y2="1179.40" stroke="#000" stroke-width="1.4"/>
<line x1="90.40" y1="1241.85" x2="100.80" y2="1241.85" stroke="#000" stroke-width="1.4"/>
<line x1="768.00" y1="1241.85" x2="778.40" y2="1241.85" stroke="#000" stroke-width="1.4"/>
<line x1="90.40" y1="1304.30" x2="100.80" y2="1304.30" stroke="#000" stroke-width="1.7"/>
<line x1="768.00" y1="1304.30" x2="778.40" y2="1304.30" stroke="#000" stroke-width="1.7"/>
<text transform="translate(80.40,936.20) scale(1.1200,1)" font-size="18.4" text-anchor="end" fill="#2a2a2a">1000</text>
<text transform="translate(80.40,1061.10) scale(1.1200,1)" font-size="18.4" text-anchor="end" fill="#2a2a2a">2000</text>
<text transform="translate(80.40,1186.00) scale(1.1200,1)" font-size="18.4" text-anchor="end" fill="#2a2a2a">3000</text>
<text transform="translate(80.40,1310.90) scale(1.1200,1)" font-size="18.4" text-anchor="end" fill="#2a2a2a">4000</text>
<text transform="translate(96.80,1340.30) scale(1.1200,1)" font-size="18.4" text-anchor="middle" fill="#2a2a2a">0°</text>
<text transform="translate(204.45,1340.30) scale(1.1200,1)" font-size="18.4" text-anchor="middle" fill="#2a2a2a">10°N</text>
<text transform="translate(307.09,1340.30) scale(1.1200,1)" font-size="18.4" text-anchor="middle" fill="#2a2a2a">20°N</text>
<text transform="translate(409.74,1340.30) scale(1.1200,1)" font-size="18.4" text-anchor="middle" fill="#2a2a2a">30°N</text>
<text transform="translate(512.38,1340.30) scale(1.1200,1)" font-size="18.4" text-anchor="middle" fill="#2a2a2a">40°N</text>
<text transform="translate(615.03,1340.30) scale(1.1200,1)" font-size="18.4" text-anchor="middle" fill="#2a2a2a">50°N</text>
<text transform="translate(717.68,1340.30) scale(1.1200,1)" font-size="18.4" text-anchor="middle" fill="#2a2a2a">60°N</text>
<g><text transform="translate(140.80,778.30) scale(0.9332,1)" font-size="27.2" font-weight="bold" fill="#000" stroke="#000" stroke-width="0.7">Zonal</text><text transform="translate(217.90,778.30) scale(0.9684,1)" font-size="27.2" font-weight="bold" fill="#000" stroke="#000" stroke-width="0.7">mean</text><text transform="translate(295.50,778.30) scale(0.8983,1)" font-size="27.2" font-weight="bold" fill="#000" stroke="#000" stroke-width="0.7">age</text><text transform="translate(346.90,778.30) scale(0.9637,1)" font-size="27.2" font-weight="bold" fill="#000" stroke="#000" stroke-width="0.7">difference:</text><text transform="translate(490.80,778.30) scale(0.9637,1)" font-size="27.2" font-weight="bold" fill="#000" stroke="#000" stroke-width="0.7">2090s</text><text transform="translate(573.10,778.30) scale(0.9263,1)" font-size="27.2" font-weight="bold" fill="#000" stroke="#000" stroke-width="0.7">minus</text><text transform="translate(656.30,778.30) scale(0.9571,1)" font-size="27.2" font-weight="bold" fill="#000" stroke="#000" stroke-width="0.7">2010s</text></g>
<g><text transform="translate(776.20,788.90) scale(0.9964,1)" font-size="27.6" fill="#000" stroke="#000" stroke-width="0.45">[yr]</text></g>
<g><text transform="translate(383.10,1380.40) scale(0.9904,1)" font-size="28.0" fill="#000" stroke="#000" stroke-width="0.45">Latitude</text></g>
<g><text transform="translate(20.85,1129.50) rotate(-90) translate(0.00,0) scale(0.9450,1)" font-size="28.2" fill="#000" stroke="#000" stroke-width="0.45">Depth</text><text transform="translate(20.85,1129.50) rotate(-90) translate(83.70,0) scale(0.9472,1)" font-size="28.2" fill="#000" stroke="#000" stroke-width="0.45">[m]</text></g>
<polygon points="782.60,829.30 795.05,805.90 807.50,829.30" fill="#3C0912" stroke="#12040a" stroke-width="1" stroke-linejoin="miter"/>
<polygon points="782.60,1280.10 795.05,1304.00 807.50,1280.10" fill="#181C43" stroke="#0a0d22" stroke-width="1" stroke-linejoin="miter"/>
<rect x="782.60" y="829.30" width="24.90" height="16.40" fill="#540E22"/>
<rect x="782.60" y="845.40" width="24.90" height="16.40" fill="#6E0F28"/>
<rect x="782.60" y="861.50" width="24.90" height="16.40" fill="#870E2B"/>
<rect x="782.60" y="877.60" width="24.90" height="16.40" fill="#9E142C"/>
<rect x="782.60" y="893.70" width="24.90" height="16.40" fill="#AD2528"/>
<rect x="782.60" y="909.80" width="24.90" height="16.40" fill="#B83D2A"/>
<rect x="782.60" y="925.90" width="24.90" height="16.40" fill="#C0543A"/>
<rect x="782.60" y="942.00" width="24.90" height="16.40" fill="#C66B4E"/>
<rect x="782.60" y="958.10" width="24.90" height="16.40" fill="#CE8168"/>
<rect x="782.60" y="974.20" width="24.90" height="16.40" fill="#D69782"/>
<rect x="782.60" y="990.30" width="24.90" height="16.40" fill="#DDAB9A"/>
<rect x="782.60" y="1006.40" width="24.90" height="16.40" fill="#E4BFB2"/>
<rect x="782.60" y="1022.50" width="24.90" height="16.40" fill="#EAD3CA"/>
<rect x="782.60" y="1038.60" width="24.90" height="16.40" fill="#F0E6E2"/>
<rect x="782.60" y="1054.70" width="24.90" height="16.40" fill="#E6E6E6"/>
<rect x="782.60" y="1070.80" width="24.90" height="16.40" fill="#D0D8DE"/>
<rect x="782.60" y="1086.90" width="24.90" height="16.40" fill="#B5C9D0"/>
<rect x="782.60" y="1103.00" width="24.90" height="16.40" fill="#9CBBC7"/>
<rect x="782.60" y="1119.10" width="24.90" height="16.40" fill="#82AEC2"/>
<rect x="782.60" y="1135.20" width="24.90" height="16.40" fill="#66A1BF"/>
<rect x="782.60" y="1151.30" width="24.90" height="16.40" fill="#4C92BD"/>
<rect x="782.60" y="1167.40" width="24.90" height="16.40" fill="#3683BC"/>
<rect x="782.60" y="1183.50" width="24.90" height="16.40" fill="#1F74BC"/>
<rect x="782.60" y="1199.60" width="24.90" height="16.40" fill="#1262C0"/>
<rect x="782.60" y="1215.70" width="24.90" height="16.40" fill="#254CB4"/>
<rect x="782.60" y="1231.80" width="24.90" height="16.40" fill="#2D3C9C"/>
<rect x="782.60" y="1247.90" width="24.90" height="16.40" fill="#27347C"/>
<rect x="782.60" y="1264.00" width="24.90" height="16.40" fill="#20285E"/>
<line x1="782.00" y1="829.30" x2="808.10" y2="829.30" stroke="#050505" stroke-width="1.4"/>
<line x1="782.00" y1="845.40" x2="808.10" y2="845.40" stroke="#050505" stroke-width="1.4"/>
<line x1="782.00" y1="861.50" x2="808.10" y2="861.50" stroke="#050505" stroke-width="1.4"/>
<line x1="782.00" y1="877.60" x2="808.10" y2="877.60" stroke="#050505" stroke-width="1.4"/>
<line x1="782.00" y1="893.70" x2="808.10" y2="893.70" stroke="#050505" stroke-width="1.4"/>
<line x1="782.00" y1="909.80" x2="808.10" y2="909.80" stroke="#050505" stroke-width="1.4"/>
<line x1="782.00" y1="925.90" x2="808.10" y2="925.90" stroke="#050505" stroke-width="1.4"/>
<line x1="782.00" y1="942.00" x2="808.10" y2="942.00" stroke="#050505" stroke-width="1.4"/>
<line x1="782.00" y1="958.10" x2="808.10" y2="958.10" stroke="#050505" stroke-width="1.4"/>
<line x1="782.00" y1="974.20" x2="808.10" y2="974.20" stroke="#050505" stroke-width="1.4"/>
<line x1="782.00" y1="990.30" x2="808.10" y2="990.30" stroke="#050505" stroke-width="1.4"/>
<line x1="782.00" y1="1006.40" x2="808.10" y2="1006.40" stroke="#050505" stroke-width="1.4"/>
<line x1="782.00" y1="1022.50" x2="808.10" y2="1022.50" stroke="#050505" stroke-width="1.4"/>
<line x1="782.00" y1="1038.60" x2="808.10" y2="1038.60" stroke="#050505" stroke-width="1.4"/>
<line x1="782.00" y1="1054.70" x2="808.10" y2="1054.70" stroke="#050505" stroke-width="1.4"/>
<line x1="782.00" y1="1070.80" x2="808.10" y2="1070.80" stroke="#050505" stroke-width="1.4"/>
<line x1="782.00" y1="1086.90" x2="808.10" y2="1086.90" stroke="#050505" stroke-width="1.4"/>
<line x1="782.00" y1="1103.00" x2="808.10" y2="1103.00" stroke="#050505" stroke-width="1.4"/>
<line x1="782.00" y1="1119.10" x2="808.10" y2="1119.10" stroke="#050505" stroke-width="1.4"/>
<line x1="782.00" y1="1135.20" x2="808.10" y2="1135.20" stroke="#050505" stroke-width="1.4"/>
<line x1="782.00" y1="1151.30" x2="808.10" y2="1151.30" stroke="#050505" stroke-width="1.4"/>
<line x1="782.00" y1="1167.40" x2="808.10" y2="1167.40" stroke="#050505" stroke-width="1.4"/>
<line x1="782.00" y1="1183.50" x2="808.10" y2="1183.50" stroke="#050505" stroke-width="1.4"/>
<line x1="782.00" y1="1199.60" x2="808.10" y2="1199.60" stroke="#050505" stroke-width="1.4"/>
<line x1="782.00" y1="1215.70" x2="808.10" y2="1215.70" stroke="#050505" stroke-width="1.4"/>
<line x1="782.00" y1="1231.80" x2="808.10" y2="1231.80" stroke="#050505" stroke-width="1.4"/>
<line x1="782.00" y1="1247.90" x2="808.10" y2="1247.90" stroke="#050505" stroke-width="1.4"/>
<line x1="782.00" y1="1264.00" x2="808.10" y2="1264.00" stroke="#050505" stroke-width="1.4"/>
<line x1="782.00" y1="1280.10" x2="808.10" y2="1280.10" stroke="#050505" stroke-width="1.4"/>
<line x1="782.60" y1="829.30" x2="782.60" y2="1280.10" stroke="#050505" stroke-width="1.3"/>
<line x1="807.50" y1="829.30" x2="807.50" y2="1280.10" stroke="#050505" stroke-width="1.3"/>
<text transform="translate(847.20,836.10) scale(1.0300,1)" font-size="18.0" text-anchor="end" fill="#2a2a2a">100</text>
<text transform="translate(847.20,868.30) scale(1.0300,1)" font-size="18.0" text-anchor="end" fill="#2a2a2a">80</text>
<text transform="translate(847.20,900.50) scale(1.0300,1)" font-size="18.0" text-anchor="end" fill="#2a2a2a">60</text>
<text transform="translate(847.20,932.70) scale(1.0300,1)" font-size="18.0" text-anchor="end" fill="#2a2a2a">40</text>
<text transform="translate(847.20,964.90) scale(1.0300,1)" font-size="18.0" text-anchor="end" fill="#2a2a2a">20</text>
<text transform="translate(847.20,997.10) scale(1.0300,1)" font-size="18.0" text-anchor="end" fill="#2a2a2a">8</text>
<text transform="translate(847.20,1029.30) scale(1.0300,1)" font-size="18.0" text-anchor="end" fill="#2a2a2a">4</text>
<text transform="translate(847.20,1061.50) scale(1.0300,1)" font-size="18.0" text-anchor="end" fill="#2a2a2a">0</text>
<text transform="translate(847.20,1093.70) scale(1.0300,1)" font-size="18.0" text-anchor="end" fill="#2a2a2a">−4</text>
<text transform="translate(847.20,1125.90) scale(1.0300,1)" font-size="18.0" text-anchor="end" fill="#2a2a2a">−8</text>
<text transform="translate(847.20,1158.10) scale(1.0300,1)" font-size="18.0" text-anchor="end" fill="#2a2a2a">−20</text>
<text transform="translate(847.20,1190.30) scale(1.0300,1)" font-size="18.0" text-anchor="end" fill="#2a2a2a">−40</text>
<text transform="translate(847.20,1222.50) scale(1.0300,1)" font-size="18.0" text-anchor="end" fill="#2a2a2a">−60</text>
<text transform="translate(847.20,1254.70) scale(1.0300,1)" font-size="18.0" text-anchor="end" fill="#2a2a2a">−80</text>
<text transform="translate(847.20,1286.90) scale(1.0300,1)" font-size="18.0" text-anchor="end" fill="#2a2a2a">−100</text>
</g>
<g id="panel-d">
<g shape-rendering="crispEdges">
<rect x="1524.59" y="813.10" width="9.84" height="1.20" fill="#82AEC2"/>
<rect x="1534.43" y="813.10" width="9.84" height="1.20" fill="#66A1BF"/>
<rect x="1544.27" y="813.10" width="9.84" height="1.20" fill="#82AEC2"/>
<rect x="1554.10" y="813.10" width="29.51" height="1.20" fill="#9CBBC7"/>
<rect x="1583.62" y="813.10" width="9.84" height="1.20" fill="#E6E6E6"/>
<rect x="1072.10" y="814.29" width="9.84" height="1.80" fill="#DDAB9A"/>
<rect x="1534.43" y="814.29" width="9.84" height="1.80" fill="#66A1BF"/>
<rect x="1544.27" y="814.29" width="9.84" height="1.80" fill="#82AEC2"/>
<rect x="1554.10" y="814.29" width="9.84" height="1.80" fill="#9CBBC7"/>
<rect x="1003.24" y="816.09" width="9.84" height="2.69" fill="#4C92BD"/>
<rect x="1072.10" y="816.09" width="9.84" height="2.69" fill="#66A1BF"/>
<rect x="1347.53" y="816.09" width="9.84" height="2.69" fill="#D0D8DE"/>
<rect x="1377.04" y="816.09" width="9.84" height="2.69" fill="#82AEC2"/>
<rect x="1504.92" y="816.09" width="9.84" height="2.69" fill="#4C92BD"/>
<rect x="1524.59" y="816.09" width="19.67" height="2.69" fill="#4C92BD"/>
<rect x="1544.27" y="816.09" width="9.84" height="2.69" fill="#82AEC2"/>
<rect x="1554.10" y="816.09" width="9.84" height="2.69" fill="#9CBBC7"/>
<rect x="1583.62" y="816.09" width="9.84" height="2.69" fill="#9CBBC7"/>
<rect x="1062.26" y="818.78" width="29.51" height="2.99" fill="#4C92BD"/>
<rect x="1111.44" y="818.78" width="9.84" height="2.99" fill="#B5C9D0"/>
<rect x="1121.28" y="818.78" width="9.84" height="2.99" fill="#EAD3CA"/>
<rect x="1140.95" y="818.78" width="9.84" height="2.99" fill="#CE8168"/>
<rect x="1347.53" y="818.78" width="9.84" height="2.99" fill="#B5C9D0"/>
<rect x="1406.55" y="818.78" width="9.84" height="2.99" fill="#66A1BF"/>
<rect x="1504.92" y="818.78" width="9.84" height="2.99" fill="#66A1BF"/>
<rect x="1514.76" y="818.78" width="9.84" height="2.99" fill="#E6E6E6"/>
<rect x="1554.10" y="818.78" width="9.84" height="2.99" fill="#E4BFB2"/>
<rect x="1563.94" y="818.78" width="9.84" height="2.99" fill="#EAD3CA"/>
<rect x="993.40" y="821.78" width="9.84" height="2.99" fill="#82AEC2"/>
<rect x="1003.24" y="821.78" width="19.67" height="2.99" fill="#4C92BD"/>
<rect x="1032.75" y="821.78" width="9.84" height="2.99" fill="#66A1BF"/>
<rect x="1042.58" y="821.78" width="19.67" height="2.99" fill="#4C92BD"/>
<rect x="1062.26" y="821.78" width="9.84" height="2.99" fill="#66A1BF"/>
<rect x="1072.10" y="821.78" width="9.84" height="2.99" fill="#4C92BD"/>
<rect x="1081.93" y="821.78" width="9.84" height="2.99" fill="#66A1BF"/>
<rect x="1101.61" y="821.78" width="9.84" height="2.99" fill="#66A1BF"/>
<rect x="1111.44" y="821.78" width="9.84" height="2.99" fill="#B5C9D0"/>
<rect x="1121.28" y="821.78" width="9.84" height="2.99" fill="#DDAB9A"/>
<rect x="1160.63" y="821.78" width="9.84" height="2.99" fill="#C0543A"/>
<rect x="1170.46" y="821.78" width="9.84" height="2.99" fill="#C66B4E"/>
<rect x="1318.02" y="821.78" width="19.67" height="2.99" fill="#DDAB9A"/>
<rect x="1337.69" y="821.78" width="9.84" height="2.99" fill="#E6E6E6"/>
<rect x="1367.20" y="821.78" width="9.84" height="2.99" fill="#F0E6E2"/>
<rect x="1396.71" y="821.78" width="9.84" height="2.99" fill="#F0E6E2"/>
<rect x="1406.55" y="821.78" width="9.84" height="2.99" fill="#D0D8DE"/>
<rect x="1455.74" y="821.78" width="9.84" height="2.99" fill="#C66B4E"/>
<rect x="1465.57" y="821.78" width="9.84" height="2.99" fill="#DDAB9A"/>
<rect x="1504.92" y="821.78" width="9.84" height="2.99" fill="#D0D8DE"/>
<rect x="1514.76" y="821.78" width="9.84" height="2.99" fill="#EAD3CA"/>
<rect x="1524.59" y="821.78" width="9.84" height="2.99" fill="#66A1BF"/>
<rect x="1534.43" y="821.78" width="9.84" height="2.99" fill="#E4BFB2"/>
<rect x="1544.27" y="821.78" width="9.84" height="2.99" fill="#DDAB9A"/>
<rect x="1554.10" y="821.78" width="9.84" height="2.99" fill="#CE8168"/>
<rect x="1563.94" y="821.78" width="9.84" height="2.99" fill="#D69782"/>
<rect x="1573.78" y="821.78" width="9.84" height="2.99" fill="#EAD3CA"/>
<rect x="1583.62" y="821.78" width="9.84" height="2.99" fill="#E6E6E6"/>
<rect x="1593.45" y="821.78" width="9.84" height="2.99" fill="#F0E6E2"/>
<rect x="1062.26" y="824.77" width="9.84" height="2.99" fill="#66A1BF"/>
<rect x="1347.53" y="824.77" width="9.84" height="2.99" fill="#DDAB9A"/>
<rect x="1524.59" y="824.77" width="9.84" height="2.99" fill="#82AEC2"/>
<rect x="1554.10" y="824.77" width="9.84" height="2.99" fill="#CE8168"/>
<rect x="1593.45" y="824.77" width="9.84" height="2.99" fill="#DDAB9A"/>
<rect x="1603.29" y="824.77" width="9.84" height="2.99" fill="#CE8168"/>
<rect x="993.40" y="827.77" width="9.84" height="4.53" fill="#9CBBC7"/>
<rect x="1003.24" y="827.77" width="9.84" height="4.53" fill="#66A1BF"/>
<rect x="1013.07" y="827.77" width="9.84" height="4.53" fill="#4C92BD"/>
<rect x="1032.75" y="827.77" width="19.67" height="4.53" fill="#66A1BF"/>
<rect x="1052.42" y="827.77" width="9.84" height="4.53" fill="#4C92BD"/>
<rect x="1062.26" y="827.77" width="19.67" height="4.53" fill="#66A1BF"/>
<rect x="1081.93" y="827.77" width="9.84" height="4.53" fill="#E4BFB2"/>
<rect x="1091.77" y="827.77" width="9.84" height="4.53" fill="#F0E6E2"/>
<rect x="1111.44" y="827.77" width="9.84" height="4.53" fill="#E6E6E6"/>
<rect x="1140.95" y="827.77" width="9.84" height="4.53" fill="#66A1BF"/>
<rect x="1180.30" y="827.77" width="9.84" height="4.53" fill="#B83D2A"/>
<rect x="1199.98" y="827.77" width="9.84" height="4.53" fill="#C0543A"/>
<rect x="1318.02" y="827.77" width="9.84" height="4.53" fill="#CE8168"/>
<rect x="1337.69" y="827.77" width="19.67" height="4.53" fill="#CE8168"/>
<rect x="1367.20" y="827.77" width="9.84" height="4.53" fill="#F0E6E2"/>
<rect x="1377.04" y="827.77" width="9.84" height="4.53" fill="#B5C9D0"/>
<rect x="1445.90" y="827.77" width="9.84" height="4.53" fill="#B5C9D0"/>
<rect x="1455.74" y="827.77" width="19.67" height="4.53" fill="#C66B4E"/>
<rect x="1495.08" y="827.77" width="9.84" height="4.53" fill="#82AEC2"/>
<rect x="1504.92" y="827.77" width="9.84" height="4.53" fill="#EAD3CA"/>
<rect x="1514.76" y="827.77" width="9.84" height="4.53" fill="#C66B4E"/>
<rect x="1524.59" y="827.77" width="9.84" height="4.53" fill="#E6E6E6"/>
<rect x="1534.43" y="827.77" width="9.84" height="4.53" fill="#D69782"/>
<rect x="1544.27" y="827.77" width="9.84" height="4.53" fill="#C66B4E"/>
<rect x="1563.94" y="827.77" width="9.84" height="4.53" fill="#C66B4E"/>
<rect x="1573.78" y="827.77" width="9.84" height="4.53" fill="#CE8168"/>
<rect x="1583.62" y="827.77" width="9.84" height="4.53" fill="#C66B4E"/>
<rect x="1593.45" y="827.77" width="19.67" height="4.53" fill="#CE8168"/>
<rect x="1003.24" y="832.30" width="9.84" height="6.05" fill="#1F74BC"/>
<rect x="1062.26" y="832.30" width="19.67" height="6.05" fill="#4C92BD"/>
<rect x="1081.93" y="832.30" width="9.84" height="6.05" fill="#66A1BF"/>
<rect x="1121.28" y="832.30" width="9.84" height="6.05" fill="#66A1BF"/>
<rect x="1140.95" y="832.30" width="9.84" height="6.05" fill="#4C92BD"/>
<rect x="1150.79" y="832.30" width="9.84" height="6.05" fill="#82AEC2"/>
<rect x="1180.30" y="832.30" width="9.84" height="6.05" fill="#C0543A"/>
<rect x="1190.14" y="832.30" width="19.67" height="6.05" fill="#B83D2A"/>
<rect x="1209.81" y="832.30" width="19.67" height="6.05" fill="#C0543A"/>
<rect x="1229.49" y="832.30" width="19.67" height="6.05" fill="#CE8168"/>
<rect x="1318.02" y="832.30" width="9.84" height="6.05" fill="#CE8168"/>
<rect x="1327.86" y="832.30" width="9.84" height="6.05" fill="#D69782"/>
<rect x="1337.69" y="832.30" width="19.67" height="6.05" fill="#CE8168"/>
<rect x="1367.20" y="832.30" width="9.84" height="6.05" fill="#D0D8DE"/>
<rect x="1377.04" y="832.30" width="9.84" height="6.05" fill="#66A1BF"/>
<rect x="1386.88" y="832.30" width="9.84" height="6.05" fill="#EAD3CA"/>
<rect x="1396.71" y="832.30" width="9.84" height="6.05" fill="#82AEC2"/>
<rect x="1406.55" y="832.30" width="19.67" height="6.05" fill="#66A1BF"/>
<rect x="1436.06" y="832.30" width="9.84" height="6.05" fill="#F0E6E2"/>
<rect x="1445.90" y="832.30" width="9.84" height="6.05" fill="#E6E6E6"/>
<rect x="1455.74" y="832.30" width="29.51" height="6.05" fill="#CE8168"/>
<rect x="1495.08" y="832.30" width="9.84" height="6.05" fill="#E4BFB2"/>
<rect x="1504.92" y="832.30" width="9.84" height="6.05" fill="#CE8168"/>
<rect x="1514.76" y="832.30" width="9.84" height="6.05" fill="#C66B4E"/>
<rect x="1524.59" y="832.30" width="9.84" height="6.05" fill="#D69782"/>
<rect x="1534.43" y="832.30" width="59.02" height="6.05" fill="#C66B4E"/>
<rect x="1593.45" y="832.30" width="9.84" height="6.05" fill="#CE8168"/>
<rect x="993.40" y="838.35" width="19.67" height="6.05" fill="#1F74BC"/>
<rect x="1062.26" y="838.35" width="9.84" height="6.05" fill="#3683BC"/>
<rect x="1081.93" y="838.35" width="9.84" height="6.05" fill="#3683BC"/>
<rect x="1111.44" y="838.35" width="9.84" height="6.05" fill="#66A1BF"/>
<rect x="1121.28" y="838.35" width="9.84" height="6.05" fill="#9CBBC7"/>
<rect x="1131.12" y="838.35" width="9.84" height="6.05" fill="#E6E6E6"/>
<rect x="1150.79" y="838.35" width="9.84" height="6.05" fill="#F0E6E2"/>
<rect x="1160.63" y="838.35" width="9.84" height="6.05" fill="#B5C9D0"/>
<rect x="1170.46" y="838.35" width="9.84" height="6.05" fill="#F0E6E2"/>
<rect x="1190.14" y="838.35" width="9.84" height="6.05" fill="#E6E6E6"/>
<rect x="1239.32" y="838.35" width="9.84" height="6.05" fill="#CE8168"/>
<rect x="1259.00" y="838.35" width="9.84" height="6.05" fill="#E4BFB2"/>
<rect x="1268.83" y="838.35" width="9.84" height="6.05" fill="#D69782"/>
<rect x="1288.51" y="838.35" width="19.67" height="6.05" fill="#CE8168"/>
<rect x="1318.02" y="838.35" width="9.84" height="6.05" fill="#D69782"/>
<rect x="1327.86" y="838.35" width="9.84" height="6.05" fill="#E4BFB2"/>
<rect x="1337.69" y="838.35" width="9.84" height="6.05" fill="#CE8168"/>
<rect x="1347.53" y="838.35" width="9.84" height="6.05" fill="#D69782"/>
<rect x="1367.20" y="838.35" width="19.67" height="6.05" fill="#66A1BF"/>
<rect x="1396.71" y="838.35" width="9.84" height="6.05" fill="#4C92BD"/>
<rect x="1465.57" y="838.35" width="9.84" height="6.05" fill="#CE8168"/>
<rect x="1475.41" y="838.35" width="9.84" height="6.05" fill="#C0543A"/>
<rect x="1504.92" y="838.35" width="9.84" height="6.05" fill="#E4BFB2"/>
<rect x="1534.43" y="838.35" width="49.18" height="6.05" fill="#C66B4E"/>
<rect x="1603.29" y="838.35" width="9.84" height="6.05" fill="#C0543A"/>
<rect x="1003.24" y="844.40" width="9.84" height="9.01" fill="#1262C0"/>
<rect x="1032.75" y="844.40" width="9.84" height="9.01" fill="#1F74BC"/>
<rect x="1072.10" y="844.40" width="9.84" height="9.01" fill="#3683BC"/>
<rect x="1091.77" y="844.40" width="9.84" height="9.01" fill="#4C92BD"/>
<rect x="1111.44" y="844.40" width="9.84" height="9.01" fill="#66A1BF"/>
<rect x="1121.28" y="844.40" width="9.84" height="9.01" fill="#4C92BD"/>
<rect x="1131.12" y="844.40" width="9.84" height="9.01" fill="#66A1BF"/>
<rect x="1150.79" y="844.40" width="9.84" height="9.01" fill="#66A1BF"/>
<rect x="1160.63" y="844.40" width="9.84" height="9.01" fill="#9CBBC7"/>
<rect x="1170.46" y="844.40" width="9.84" height="9.01" fill="#E4BFB2"/>
<rect x="1180.30" y="844.40" width="19.67" height="9.01" fill="#EAD3CA"/>
<rect x="1199.98" y="844.40" width="9.84" height="9.01" fill="#CE8168"/>
<rect x="1209.81" y="844.40" width="9.84" height="9.01" fill="#F0E6E2"/>
<rect x="1219.65" y="844.40" width="9.84" height="9.01" fill="#AD2528"/>
<rect x="1229.49" y="844.40" width="9.84" height="9.01" fill="#C66B4E"/>
<rect x="1239.32" y="844.40" width="19.67" height="9.01" fill="#CE8168"/>
<rect x="1259.00" y="844.40" width="9.84" height="9.01" fill="#E4BFB2"/>
<rect x="1268.83" y="844.40" width="9.84" height="9.01" fill="#F0E6E2"/>
<rect x="1278.67" y="844.40" width="9.84" height="9.01" fill="#B5C9D0"/>
<rect x="1288.51" y="844.40" width="9.84" height="9.01" fill="#D69782"/>
<rect x="1298.34" y="844.40" width="19.67" height="9.01" fill="#DDAB9A"/>
<rect x="1318.02" y="844.40" width="19.67" height="9.01" fill="#D69782"/>
<rect x="1337.69" y="844.40" width="19.67" height="9.01" fill="#CE8168"/>
<rect x="1367.20" y="844.40" width="9.84" height="9.01" fill="#F0E6E2"/>
<rect x="1377.04" y="844.40" width="9.84" height="9.01" fill="#4C92BD"/>
<rect x="1386.88" y="844.40" width="9.84" height="9.01" fill="#CE8168"/>
<rect x="1396.71" y="844.40" width="19.67" height="9.01" fill="#66A1BF"/>
<rect x="1416.39" y="844.40" width="9.84" height="9.01" fill="#CE8168"/>
<rect x="1436.06" y="844.40" width="9.84" height="9.01" fill="#4C92BD"/>
<rect x="1445.90" y="844.40" width="19.67" height="9.01" fill="#CE8168"/>
<rect x="1465.57" y="844.40" width="9.84" height="9.01" fill="#C0543A"/>
<rect x="1475.41" y="844.40" width="19.67" height="9.01" fill="#C66B4E"/>
<rect x="1495.08" y="844.40" width="9.84" height="9.01" fill="#DDAB9A"/>
<rect x="1504.92" y="844.40" width="19.67" height="9.01" fill="#CE8168"/>
<rect x="1524.59" y="844.40" width="9.84" height="9.01" fill="#C66B4E"/>
<rect x="1534.43" y="844.40" width="39.35" height="9.01" fill="#C0543A"/>
<rect x="1573.78" y="844.40" width="19.67" height="9.01" fill="#C66B4E"/>
<rect x="1593.45" y="844.40" width="9.84" height="9.01" fill="#C0543A"/>
<rect x="1121.28" y="853.41" width="9.84" height="11.98" fill="#D0D8DE"/>
<rect x="1131.12" y="853.41" width="9.84" height="11.98" fill="#F0E6E2"/>
<rect x="1140.95" y="853.41" width="9.84" height="11.98" fill="#B5C9D0"/>
<rect x="1150.79" y="853.41" width="9.84" height="11.98" fill="#E4BFB2"/>
<rect x="1160.63" y="853.41" width="9.84" height="11.98" fill="#DDAB9A"/>
<rect x="1170.46" y="853.41" width="9.84" height="11.98" fill="#CE8168"/>
<rect x="1180.30" y="853.41" width="9.84" height="11.98" fill="#DDAB9A"/>
<rect x="1190.14" y="853.41" width="29.51" height="11.98" fill="#CE8168"/>
<rect x="1219.65" y="853.41" width="9.84" height="11.98" fill="#AD2528"/>
<rect x="1229.49" y="853.41" width="9.84" height="11.98" fill="#D0D8DE"/>
<rect x="1239.32" y="853.41" width="9.84" height="11.98" fill="#C66B4E"/>
<rect x="1259.00" y="853.41" width="9.84" height="11.98" fill="#F0E6E2"/>
<rect x="1268.83" y="853.41" width="19.67" height="11.98" fill="#C66B4E"/>
<rect x="1288.51" y="853.41" width="9.84" height="11.98" fill="#EAD3CA"/>
<rect x="1298.34" y="853.41" width="9.84" height="11.98" fill="#CE8168"/>
<rect x="1308.18" y="853.41" width="9.84" height="11.98" fill="#C0543A"/>
<rect x="1318.02" y="853.41" width="9.84" height="11.98" fill="#DDAB9A"/>
<rect x="1327.86" y="853.41" width="9.84" height="11.98" fill="#66A1BF"/>
<rect x="1337.69" y="853.41" width="9.84" height="11.98" fill="#CE8168"/>
<rect x="1347.53" y="853.41" width="9.84" height="11.98" fill="#D69782"/>
<rect x="1357.37" y="853.41" width="9.84" height="11.98" fill="#B83D2A"/>
<rect x="1367.20" y="853.41" width="9.84" height="11.98" fill="#E4BFB2"/>
<rect x="1377.04" y="853.41" width="9.84" height="11.98" fill="#B5C9D0"/>
<rect x="1386.88" y="853.41" width="9.84" height="11.98" fill="#C0543A"/>
<rect x="1396.71" y="853.41" width="9.84" height="11.98" fill="#B5C9D0"/>
<rect x="1406.55" y="853.41" width="9.84" height="11.98" fill="#EAD3CA"/>
<rect x="1416.39" y="853.41" width="9.84" height="11.98" fill="#C66B4E"/>
<rect x="1436.06" y="853.41" width="9.84" height="11.98" fill="#9CBBC7"/>
<rect x="1445.90" y="853.41" width="9.84" height="11.98" fill="#EAD3CA"/>
<rect x="1455.74" y="853.41" width="19.67" height="11.98" fill="#C66B4E"/>
<rect x="1475.41" y="853.41" width="19.67" height="11.98" fill="#C0543A"/>
<rect x="1495.08" y="853.41" width="9.84" height="11.98" fill="#CE8168"/>
<rect x="1504.92" y="853.41" width="19.67" height="11.98" fill="#C66B4E"/>
<rect x="1524.59" y="853.41" width="9.84" height="11.98" fill="#D0D8DE"/>
<rect x="1534.43" y="853.41" width="29.51" height="11.98" fill="#C0543A"/>
<rect x="1563.94" y="853.41" width="9.84" height="11.98" fill="#C66B4E"/>
<rect x="1573.78" y="853.41" width="9.84" height="11.98" fill="#C0543A"/>
<rect x="1583.62" y="853.41" width="9.84" height="11.98" fill="#C66B4E"/>
<rect x="1593.45" y="853.41" width="9.84" height="11.98" fill="#C0543A"/>
<rect x="1121.28" y="865.39" width="9.84" height="11.97" fill="#F0E6E2"/>
<rect x="1131.12" y="865.39" width="9.84" height="11.97" fill="#E4BFB2"/>
<rect x="1150.79" y="865.39" width="19.67" height="11.97" fill="#CE8168"/>
<rect x="1170.46" y="865.39" width="9.84" height="11.97" fill="#C66B4E"/>
<rect x="1180.30" y="865.39" width="29.51" height="11.97" fill="#CE8168"/>
<rect x="1209.81" y="865.39" width="9.84" height="11.97" fill="#F0E6E2"/>
<rect x="1229.49" y="865.39" width="19.67" height="11.97" fill="#CE8168"/>
<rect x="1249.16" y="865.39" width="9.84" height="11.97" fill="#AD2528"/>
<rect x="1259.00" y="865.39" width="9.84" height="11.97" fill="#4C92BD"/>
<rect x="1268.83" y="865.39" width="9.84" height="11.97" fill="#CE8168"/>
<rect x="1288.51" y="865.39" width="9.84" height="11.97" fill="#66A1BF"/>
<rect x="1298.34" y="865.39" width="9.84" height="11.97" fill="#CE8168"/>
<rect x="1308.18" y="865.39" width="9.84" height="11.97" fill="#B83D2A"/>
<rect x="1318.02" y="865.39" width="9.84" height="11.97" fill="#F0E6E2"/>
<rect x="1327.86" y="865.39" width="9.84" height="11.97" fill="#66A1BF"/>
<rect x="1337.69" y="865.39" width="9.84" height="11.97" fill="#D69782"/>
<rect x="1347.53" y="865.39" width="9.84" height="11.97" fill="#CE8168"/>
<rect x="1367.20" y="865.39" width="9.84" height="11.97" fill="#B83D2A"/>
<rect x="1386.88" y="865.39" width="9.84" height="11.97" fill="#B83D2A"/>
<rect x="1396.71" y="865.39" width="9.84" height="11.97" fill="#9CBBC7"/>
<rect x="1406.55" y="865.39" width="9.84" height="11.97" fill="#C0543A"/>
<rect x="1416.39" y="865.39" width="9.84" height="11.97" fill="#CE8168"/>
<rect x="1436.06" y="865.39" width="9.84" height="11.97" fill="#CE8168"/>
<rect x="1445.90" y="865.39" width="9.84" height="11.97" fill="#F0E6E2"/>
<rect x="1455.74" y="865.39" width="9.84" height="11.97" fill="#B83D2A"/>
<rect x="1465.57" y="865.39" width="9.84" height="11.97" fill="#C0543A"/>
<rect x="1475.41" y="865.39" width="9.84" height="11.97" fill="#B83D2A"/>
<rect x="1495.08" y="865.39" width="9.84" height="11.97" fill="#E6E6E6"/>
<rect x="1504.92" y="865.39" width="9.84" height="11.97" fill="#F0E6E2"/>
<rect x="1514.76" y="865.39" width="9.84" height="11.97" fill="#C66B4E"/>
<rect x="1524.59" y="865.39" width="9.84" height="11.97" fill="#CE8168"/>
<rect x="1534.43" y="865.39" width="49.18" height="11.97" fill="#C0543A"/>
<rect x="1583.62" y="865.39" width="9.84" height="11.97" fill="#CE8168"/>
<rect x="1593.45" y="865.39" width="9.84" height="11.97" fill="#C66B4E"/>
<rect x="1603.29" y="865.39" width="9.84" height="11.97" fill="#C0543A"/>
<rect x="1131.12" y="877.36" width="9.84" height="11.98" fill="#DDAB9A"/>
<rect x="1150.79" y="877.36" width="9.84" height="11.98" fill="#CE8168"/>
<rect x="1160.63" y="877.36" width="9.84" height="11.98" fill="#E4BFB2"/>
<rect x="1170.46" y="877.36" width="9.84" height="11.98" fill="#C66B4E"/>
<rect x="1180.30" y="877.36" width="9.84" height="11.98" fill="#EAD3CA"/>
<rect x="1190.14" y="877.36" width="9.84" height="11.98" fill="#C66B4E"/>
<rect x="1199.98" y="877.36" width="9.84" height="11.98" fill="#CE8168"/>
<rect x="1209.81" y="877.36" width="9.84" height="11.98" fill="#DDAB9A"/>
<rect x="1219.65" y="877.36" width="9.84" height="11.98" fill="#B83D2A"/>
<rect x="1229.49" y="877.36" width="9.84" height="11.98" fill="#CE8168"/>
<rect x="1239.32" y="877.36" width="9.84" height="11.98" fill="#B5C9D0"/>
<rect x="1249.16" y="877.36" width="9.84" height="11.98" fill="#B83D2A"/>
<rect x="1259.00" y="877.36" width="9.84" height="11.98" fill="#66A1BF"/>
<rect x="1268.83" y="877.36" width="9.84" height="11.98" fill="#82AEC2"/>
<rect x="1288.51" y="877.36" width="9.84" height="11.98" fill="#66A1BF"/>
<rect x="1308.18" y="877.36" width="9.84" height="11.98" fill="#C0543A"/>
<rect x="1318.02" y="877.36" width="9.84" height="11.98" fill="#4C92BD"/>
<rect x="1337.69" y="877.36" width="19.67" height="11.98" fill="#C0543A"/>
<rect x="1367.20" y="877.36" width="9.84" height="11.98" fill="#CE8168"/>
<rect x="1377.04" y="877.36" width="9.84" height="11.98" fill="#82AEC2"/>
<rect x="1386.88" y="877.36" width="9.84" height="11.98" fill="#C0543A"/>
<rect x="1406.55" y="877.36" width="9.84" height="11.98" fill="#C66B4E"/>
<rect x="1436.06" y="877.36" width="9.84" height="11.98" fill="#C66B4E"/>
<rect x="1445.90" y="877.36" width="9.84" height="11.98" fill="#E4BFB2"/>
<rect x="1455.74" y="877.36" width="9.84" height="11.98" fill="#C0543A"/>
<rect x="1465.57" y="877.36" width="9.84" height="11.98" fill="#DDAB9A"/>
<rect x="1475.41" y="877.36" width="9.84" height="11.98" fill="#B83D2A"/>
<rect x="1485.25" y="877.36" width="9.84" height="11.98" fill="#C0543A"/>
<rect x="1495.08" y="877.36" width="29.51" height="11.98" fill="#C66B4E"/>
<rect x="1524.59" y="877.36" width="19.67" height="11.98" fill="#C0543A"/>
<rect x="1544.27" y="877.36" width="9.84" height="11.98" fill="#C66B4E"/>
<rect x="1554.10" y="877.36" width="9.84" height="11.98" fill="#C0543A"/>
<rect x="1563.94" y="877.36" width="19.67" height="11.98" fill="#C66B4E"/>
<rect x="1583.62" y="877.36" width="9.84" height="11.98" fill="#CE8168"/>
<rect x="1593.45" y="877.36" width="9.84" height="11.98" fill="#C66B4E"/>
<rect x="1160.63" y="889.34" width="9.84" height="11.98" fill="#EAD3CA"/>
<rect x="1180.30" y="889.34" width="9.84" height="11.98" fill="#E4BFB2"/>
<rect x="1190.14" y="889.34" width="29.51" height="11.98" fill="#CE8168"/>
<rect x="1229.49" y="889.34" width="9.84" height="11.98" fill="#C66B4E"/>
<rect x="1249.16" y="889.34" width="9.84" height="11.98" fill="#B83D2A"/>
<rect x="1259.00" y="889.34" width="9.84" height="11.98" fill="#D0D8DE"/>
<rect x="1268.83" y="889.34" width="9.84" height="11.98" fill="#EAD3CA"/>
<rect x="1288.51" y="889.34" width="9.84" height="11.98" fill="#B5C9D0"/>
<rect x="1298.34" y="889.34" width="9.84" height="11.98" fill="#CE8168"/>
<rect x="1308.18" y="889.34" width="9.84" height="11.98" fill="#C0543A"/>
<rect x="1327.86" y="889.34" width="39.35" height="11.98" fill="#C0543A"/>
<rect x="1367.20" y="889.34" width="9.84" height="11.98" fill="#CE8168"/>
<rect x="1386.88" y="889.34" width="9.84" height="11.98" fill="#C66B4E"/>
<rect x="1406.55" y="889.34" width="9.84" height="11.98" fill="#CE8168"/>
<rect x="1436.06" y="889.34" width="9.84" height="11.98" fill="#9CBBC7"/>
<rect x="1455.74" y="889.34" width="9.84" height="11.98" fill="#C0543A"/>
<rect x="1465.57" y="889.34" width="9.84" height="11.98" fill="#E6E6E6"/>
<rect x="1495.08" y="889.34" width="19.67" height="11.98" fill="#CE8168"/>
<rect x="1514.76" y="889.34" width="9.84" height="11.98" fill="#C66B4E"/>
<rect x="1524.59" y="889.34" width="9.84" height="11.98" fill="#D69782"/>
<rect x="1534.43" y="889.34" width="19.67" height="11.98" fill="#C0543A"/>
<rect x="1554.10" y="889.34" width="29.51" height="11.98" fill="#C66B4E"/>
<rect x="1583.62" y="889.34" width="19.67" height="11.98" fill="#CE8168"/>
<rect x="1603.29" y="889.34" width="9.84" height="11.98" fill="#C66B4E"/>
<rect x="1180.30" y="901.31" width="9.84" height="11.98" fill="#E6E6E6"/>
<rect x="1190.14" y="901.31" width="9.84" height="11.98" fill="#EAD3CA"/>
<rect x="1199.98" y="901.31" width="9.84" height="11.98" fill="#CE8168"/>
<rect x="1209.81" y="901.31" width="9.84" height="11.98" fill="#D69782"/>
<rect x="1229.49" y="901.31" width="9.84" height="11.98" fill="#E6E6E6"/>
<rect x="1239.32" y="901.31" width="9.84" height="11.98" fill="#D0D8DE"/>
<rect x="1259.00" y="901.31" width="9.84" height="11.98" fill="#B5C9D0"/>
<rect x="1268.83" y="901.31" width="9.84" height="11.98" fill="#E4BFB2"/>
<rect x="1278.67" y="901.31" width="9.84" height="11.98" fill="#C0543A"/>
<rect x="1288.51" y="901.31" width="9.84" height="11.98" fill="#E6E6E6"/>
<rect x="1298.34" y="901.31" width="9.84" height="11.98" fill="#D0D8DE"/>
<rect x="1308.18" y="901.31" width="9.84" height="11.98" fill="#C0543A"/>
<rect x="1337.69" y="901.31" width="9.84" height="11.98" fill="#C66B4E"/>
<rect x="1357.37" y="901.31" width="19.67" height="11.98" fill="#C66B4E"/>
<rect x="1386.88" y="901.31" width="9.84" height="11.98" fill="#C66B4E"/>
<rect x="1436.06" y="901.31" width="9.84" height="11.98" fill="#C66B4E"/>
<rect x="1445.90" y="901.31" width="9.84" height="11.98" fill="#CE8168"/>
<rect x="1455.74" y="901.31" width="9.84" height="11.98" fill="#C66B4E"/>
<rect x="1465.57" y="901.31" width="9.84" height="11.98" fill="#CE8168"/>
<rect x="1485.25" y="901.31" width="59.02" height="11.98" fill="#C0543A"/>
<rect x="1544.27" y="901.31" width="39.35" height="11.98" fill="#C66B4E"/>
<rect x="1583.62" y="901.31" width="19.67" height="11.98" fill="#CE8168"/>
<rect x="1209.81" y="913.29" width="9.84" height="11.98" fill="#F0E6E2"/>
<rect x="1259.00" y="913.29" width="9.84" height="11.98" fill="#E4BFB2"/>
<rect x="1268.83" y="913.29" width="9.84" height="11.98" fill="#EAD3CA"/>
<rect x="1337.69" y="913.29" width="9.84" height="11.98" fill="#C66B4E"/>
<rect x="1367.20" y="913.29" width="9.84" height="11.98" fill="#C66B4E"/>
<rect x="1386.88" y="913.29" width="9.84" height="11.98" fill="#CE8168"/>
<rect x="1406.55" y="913.29" width="9.84" height="11.98" fill="#E4BFB2"/>
<rect x="1416.39" y="913.29" width="9.84" height="11.98" fill="#F0E6E2"/>
<rect x="1436.06" y="913.29" width="9.84" height="11.98" fill="#C66B4E"/>
<rect x="1445.90" y="913.29" width="9.84" height="11.98" fill="#E4BFB2"/>
<rect x="1455.74" y="913.29" width="9.84" height="11.98" fill="#C0543A"/>
<rect x="1465.57" y="913.29" width="9.84" height="11.98" fill="#CE8168"/>
<rect x="1475.41" y="913.29" width="9.84" height="11.98" fill="#C66B4E"/>
<rect x="1495.08" y="913.29" width="29.51" height="11.98" fill="#C66B4E"/>
<rect x="1524.59" y="913.29" width="9.84" height="11.98" fill="#CE8168"/>
<rect x="1534.43" y="913.29" width="9.84" height="11.98" fill="#C0543A"/>
<rect x="1544.27" y="913.29" width="39.35" height="11.98" fill="#C66B4E"/>
<rect x="1593.45" y="913.29" width="9.84" height="11.98" fill="#CE8168"/>
<rect x="1377.04" y="925.26" width="19.67" height="11.97" fill="#CE8168"/>
<rect x="1396.71" y="925.26" width="9.84" height="11.97" fill="#DDAB9A"/>
<rect x="1406.55" y="925.26" width="19.67" height="11.97" fill="#E4BFB2"/>
<rect x="1436.06" y="925.26" width="9.84" height="11.97" fill="#C0543A"/>
<rect x="1445.90" y="925.26" width="9.84" height="11.97" fill="#CE8168"/>
<rect x="1455.74" y="925.26" width="9.84" height="11.97" fill="#C0543A"/>
<rect x="1465.57" y="925.26" width="9.84" height="11.97" fill="#CE8168"/>
<rect x="1475.41" y="925.26" width="9.84" height="11.97" fill="#C0543A"/>
<rect x="1485.25" y="925.26" width="9.84" height="11.97" fill="#C66B4E"/>
<rect x="1495.08" y="925.26" width="19.67" height="11.97" fill="#C0543A"/>
<rect x="1514.76" y="925.26" width="78.70" height="11.97" fill="#C66B4E"/>
<rect x="1593.45" y="925.26" width="9.84" height="11.97" fill="#CE8168"/>
<rect x="1386.88" y="937.24" width="9.84" height="11.98" fill="#D69782"/>
<rect x="1406.55" y="937.24" width="9.84" height="11.98" fill="#D69782"/>
<rect x="1416.39" y="937.24" width="9.84" height="11.98" fill="#CE8168"/>
<rect x="1436.06" y="937.24" width="9.84" height="11.98" fill="#C0543A"/>
<rect x="1445.90" y="937.24" width="9.84" height="11.98" fill="#CE8168"/>
<rect x="1455.74" y="937.24" width="9.84" height="11.98" fill="#C0543A"/>
<rect x="1465.57" y="937.24" width="9.84" height="11.98" fill="#CE8168"/>
<rect x="1475.41" y="937.24" width="9.84" height="11.98" fill="#C66B4E"/>
<rect x="1495.08" y="937.24" width="9.84" height="11.98" fill="#C0543A"/>
<rect x="1534.43" y="937.24" width="49.18" height="11.98" fill="#C66B4E"/>
<rect x="1593.45" y="937.24" width="9.84" height="11.98" fill="#CE8168"/>
<rect x="1327.86" y="949.21" width="9.84" height="11.98" fill="#CE8168"/>
<rect x="1386.88" y="949.21" width="9.84" height="11.98" fill="#CE8168"/>
<rect x="1406.55" y="949.21" width="9.84" height="11.98" fill="#CE8168"/>
<rect x="1416.39" y="949.21" width="9.84" height="11.98" fill="#C66B4E"/>
<rect x="1445.90" y="949.21" width="9.84" height="11.98" fill="#C66B4E"/>
<rect x="1455.74" y="949.21" width="9.84" height="11.98" fill="#C0543A"/>
<rect x="1465.57" y="949.21" width="19.67" height="11.98" fill="#C66B4E"/>
<rect x="1485.25" y="949.21" width="19.67" height="11.98" fill="#C0543A"/>
<rect x="1504.92" y="949.21" width="78.70" height="11.98" fill="#C66B4E"/>
<rect x="1583.62" y="949.21" width="19.67" height="11.98" fill="#CE8168"/>
<rect x="1396.71" y="961.19" width="9.84" height="11.98" fill="#CE8168"/>
<rect x="1416.39" y="961.19" width="9.84" height="11.98" fill="#CE8168"/>
<rect x="1455.74" y="961.19" width="9.84" height="11.98" fill="#C0543A"/>
<rect x="1465.57" y="961.19" width="9.84" height="11.98" fill="#C66B4E"/>
<rect x="1495.08" y="961.19" width="9.84" height="11.98" fill="#C0543A"/>
<rect x="1514.76" y="961.19" width="9.84" height="11.98" fill="#C66B4E"/>
<rect x="1534.43" y="961.19" width="49.18" height="11.98" fill="#C66B4E"/>
<rect x="1583.62" y="961.19" width="19.67" height="11.98" fill="#CE8168"/>
<rect x="1386.88" y="973.16" width="9.84" height="11.98" fill="#CE8168"/>
<rect x="1406.55" y="973.16" width="9.84" height="11.98" fill="#CE8168"/>
<rect x="1445.90" y="973.16" width="9.84" height="11.98" fill="#C66B4E"/>
<rect x="1455.74" y="973.16" width="19.67" height="11.98" fill="#C0543A"/>
<rect x="1475.41" y="973.16" width="9.84" height="11.98" fill="#C66B4E"/>
<rect x="1495.08" y="973.16" width="9.84" height="11.98" fill="#C0543A"/>
<rect x="1504.92" y="973.16" width="78.70" height="11.98" fill="#C66B4E"/>
<rect x="1583.62" y="973.16" width="9.84" height="11.98" fill="#CE8168"/>
<rect x="1377.04" y="985.14" width="19.67" height="20.96" fill="#CE8168"/>
<rect x="1406.55" y="985.14" width="49.18" height="20.96" fill="#C66B4E"/>
<rect x="1455.74" y="985.14" width="9.84" height="20.96" fill="#C0543A"/>
<rect x="1465.57" y="985.14" width="19.67" height="20.96" fill="#C66B4E"/>
<rect x="1485.25" y="985.14" width="9.84" height="20.96" fill="#C0543A"/>
<rect x="1495.08" y="985.14" width="88.53" height="20.96" fill="#C66B4E"/>
<rect x="1583.62" y="985.14" width="19.67" height="20.96" fill="#CE8168"/>
<rect x="1406.55" y="1006.09" width="9.84" height="29.94" fill="#C66B4E"/>
<rect x="1436.06" y="1006.09" width="147.55" height="29.94" fill="#C66B4E"/>
<rect x="1583.62" y="1006.09" width="19.67" height="29.94" fill="#CE8168"/>
<rect x="1426.22" y="1036.03" width="167.23" height="44.91" fill="#C66B4E"/>
<rect x="1455.74" y="1080.94" width="78.70" height="59.88" fill="#C0543A"/>
<rect x="1534.43" y="1080.94" width="49.18" height="59.88" fill="#B83D2A"/>
<rect x="1573.78" y="1140.81" width="9.84" height="59.88" fill="#9E142C"/>
</g>
<line x1="1455.70" y1="845.00" x2="1455.70" y2="1080.50" stroke="#ffffff" stroke-width="0.6" stroke-opacity="0.32"/>
<line x1="1465.60" y1="845.00" x2="1465.60" y2="1036.00" stroke="#ffffff" stroke-width="0.6" stroke-opacity="0.32"/>
<line x1="993.40" y1="811.50" x2="1632.80" y2="811.50" stroke="#000" stroke-width="1.25"/>
<line x1="993.40" y1="1290.50" x2="1632.80" y2="1290.50" stroke="#000" stroke-width="1.7"/>
<line x1="993.40" y1="801.10" x2="993.40" y2="1300.90" stroke="#000" stroke-width="1.4"/>
<line x1="1632.80" y1="801.10" x2="1632.80" y2="871.38" stroke="#000" stroke-width="1.0"/>
<line x1="1632.80" y1="871.38" x2="1632.80" y2="1300.90" stroke="#000" stroke-width="1.9"/>
<line x1="1042.58" y1="801.10" x2="1042.58" y2="811.50" stroke="#000" stroke-width="1.4"/>
<line x1="1042.58" y1="1290.50" x2="1042.58" y2="1300.90" stroke="#000" stroke-width="1.4"/>
<line x1="1091.77" y1="801.10" x2="1091.77" y2="811.50" stroke="#000" stroke-width="1.4"/>
<line x1="1091.77" y1="1290.50" x2="1091.77" y2="1300.90" stroke="#000" stroke-width="1.4"/>
<line x1="1140.95" y1="801.10" x2="1140.95" y2="811.50" stroke="#000" stroke-width="1.4"/>
<line x1="1140.95" y1="1290.50" x2="1140.95" y2="1300.90" stroke="#000" stroke-width="1.4"/>
<line x1="1190.14" y1="801.10" x2="1190.14" y2="811.50" stroke="#000" stroke-width="1.4"/>
<line x1="1190.14" y1="1290.50" x2="1190.14" y2="1300.90" stroke="#000" stroke-width="1.4"/>
<line x1="1239.32" y1="801.10" x2="1239.32" y2="811.50" stroke="#000" stroke-width="1.4"/>
<line x1="1239.32" y1="1290.50" x2="1239.32" y2="1300.90" stroke="#000" stroke-width="1.4"/>
<line x1="1288.51" y1="801.10" x2="1288.51" y2="811.50" stroke="#000" stroke-width="1.4"/>
<line x1="1288.51" y1="1290.50" x2="1288.51" y2="1300.90" stroke="#000" stroke-width="1.4"/>
<line x1="1337.69" y1="801.10" x2="1337.69" y2="811.50" stroke="#000" stroke-width="1.4"/>
<line x1="1337.69" y1="1290.50" x2="1337.69" y2="1300.90" stroke="#000" stroke-width="1.4"/>
<line x1="1386.88" y1="801.10" x2="1386.88" y2="811.50" stroke="#000" stroke-width="1.4"/>
<line x1="1386.88" y1="1290.50" x2="1386.88" y2="1300.90" stroke="#000" stroke-width="1.4"/>
<line x1="1436.06" y1="801.10" x2="1436.06" y2="811.50" stroke="#000" stroke-width="1.4"/>
<line x1="1436.06" y1="1290.50" x2="1436.06" y2="1300.90" stroke="#000" stroke-width="1.4"/>
<line x1="1485.25" y1="801.10" x2="1485.25" y2="811.50" stroke="#000" stroke-width="1.4"/>
<line x1="1485.25" y1="1290.50" x2="1485.25" y2="1300.90" stroke="#000" stroke-width="1.4"/>
<line x1="1534.43" y1="801.10" x2="1534.43" y2="811.50" stroke="#000" stroke-width="1.4"/>
<line x1="1534.43" y1="1290.50" x2="1534.43" y2="1300.90" stroke="#000" stroke-width="1.4"/>
<line x1="1583.62" y1="801.10" x2="1583.62" y2="811.50" stroke="#000" stroke-width="1.4"/>
<line x1="1583.62" y1="1290.50" x2="1583.62" y2="1300.90" stroke="#000" stroke-width="1.4"/>
<line x1="983.00" y1="871.38" x2="993.40" y2="871.38" stroke="#000" stroke-width="1.4"/>
<line x1="1632.80" y1="871.38" x2="1643.20" y2="871.38" stroke="#000" stroke-width="1.4"/>
<line x1="983.00" y1="931.25" x2="993.40" y2="931.25" stroke="#000" stroke-width="1.4"/>
<line x1="1632.80" y1="931.25" x2="1643.20" y2="931.25" stroke="#000" stroke-width="1.4"/>
<line x1="983.00" y1="991.12" x2="993.40" y2="991.12" stroke="#000" stroke-width="1.4"/>
<line x1="1632.80" y1="991.12" x2="1643.20" y2="991.12" stroke="#000" stroke-width="1.4"/>
<line x1="983.00" y1="1051.00" x2="993.40" y2="1051.00" stroke="#000" stroke-width="1.4"/>
<line x1="1632.80" y1="1051.00" x2="1643.20" y2="1051.00" stroke="#000" stroke-width="1.4"/>
<line x1="983.00" y1="1110.88" x2="993.40" y2="1110.88" stroke="#000" stroke-width="1.4"/>
<line x1="1632.80" y1="1110.88" x2="1643.20" y2="1110.88" stroke="#000" stroke-width="1.4"/>
<line x1="983.00" y1="1170.75" x2="993.40" y2="1170.75" stroke="#000" stroke-width="1.4"/>
<line x1="1632.80" y1="1170.75" x2="1643.20" y2="1170.75" stroke="#000" stroke-width="1.4"/>
<line x1="983.00" y1="1230.62" x2="993.40" y2="1230.62" stroke="#000" stroke-width="1.4"/>
<line x1="1632.80" y1="1230.62" x2="1643.20" y2="1230.62" stroke="#000" stroke-width="1.4"/>
<line x1="983.00" y1="1290.50" x2="993.40" y2="1290.50" stroke="#000" stroke-width="1.7"/>
<line x1="1632.80" y1="1290.50" x2="1643.20" y2="1290.50" stroke="#000" stroke-width="1.7"/>
<text transform="translate(973.00,937.85) scale(1.1200,1)" font-size="18.4" text-anchor="end" fill="#2a2a2a">1000</text>
<text transform="translate(973.00,1057.60) scale(1.1200,1)" font-size="18.4" text-anchor="end" fill="#2a2a2a">2000</text>
<text transform="translate(973.00,1177.35) scale(1.1200,1)" font-size="18.4" text-anchor="end" fill="#2a2a2a">3000</text>
<text transform="translate(973.00,1297.10) scale(1.1200,1)" font-size="18.4" text-anchor="end" fill="#2a2a2a">4000</text>
<text transform="translate(989.40,1326.50) scale(1.1200,1)" font-size="18.4" text-anchor="middle" fill="#2a2a2a">0°</text>
<text transform="translate(1092.77,1326.50) scale(1.1200,1)" font-size="18.4" text-anchor="middle" fill="#2a2a2a">10°N</text>
<text transform="translate(1191.14,1326.50) scale(1.1200,1)" font-size="18.4" text-anchor="middle" fill="#2a2a2a">20°N</text>
<text transform="translate(1289.51,1326.50) scale(1.1200,1)" font-size="18.4" text-anchor="middle" fill="#2a2a2a">30°N</text>
<text transform="translate(1387.88,1326.50) scale(1.1200,1)" font-size="18.4" text-anchor="middle" fill="#2a2a2a">40°N</text>
<text transform="translate(1486.25,1326.50) scale(1.1200,1)" font-size="18.4" text-anchor="middle" fill="#2a2a2a">50°N</text>
<text transform="translate(1584.62,1326.50) scale(1.1200,1)" font-size="18.4" text-anchor="middle" fill="#2a2a2a">60°N</text>
<g><text transform="translate(1002.20,778.30) scale(0.9346,1)" font-size="27.2" font-weight="bold" fill="#000" stroke="#000" stroke-width="0.7">Zonal</text><text transform="translate(1079.40,778.30) scale(0.9712,1)" font-size="27.2" font-weight="bold" fill="#000" stroke="#000" stroke-width="0.7">mean</text><text transform="translate(1157.00,778.30) scale(0.9348,1)" font-size="27.2" font-weight="bold" fill="#000" stroke="#000" stroke-width="0.7">AOU</text><text transform="translate(1222.80,778.30) scale(0.9587,1)" font-size="27.2" font-weight="bold" fill="#000" stroke="#000" stroke-width="0.7">difference:</text><text transform="translate(1365.80,778.30) scale(0.9651,1)" font-size="27.2" font-weight="bold" fill="#000" stroke="#000" stroke-width="0.7">2090s</text><text transform="translate(1448.10,778.30) scale(0.9300,1)" font-size="27.2" font-weight="bold" fill="#000" stroke="#000" stroke-width="0.7">minus</text><text transform="translate(1531.30,778.30) scale(0.9598,1)" font-size="27.2" font-weight="bold" fill="#000" stroke="#000" stroke-width="0.7">2010s</text></g>
<g><text transform="translate(1578.40,806.30) scale(1.0458,1)" font-size="27.6" fill="#000" stroke="#000" stroke-width="0.45">[umol/kg]</text></g>
<g><text transform="translate(1236.80,1380.40) scale(0.9904,1)" font-size="28.0" fill="#000" stroke="#000" stroke-width="0.45">Latitude</text></g>
<g><text transform="translate(920.70,1129.50) rotate(-90) translate(0.00,0) scale(0.9450,1)" font-size="28.2" fill="#000" stroke="#000" stroke-width="0.45">Depth</text><text transform="translate(920.70,1129.50) rotate(-90) translate(83.70,0) scale(0.9472,1)" font-size="28.2" fill="#000" stroke="#000" stroke-width="0.45">[m]</text></g>
<polygon points="1646.00,836.00 1658.25,813.00 1670.50,836.00" fill="#3C0912" stroke="#12040a" stroke-width="1" stroke-linejoin="miter"/>
<polygon points="1646.00,1267.50 1658.25,1290.00 1670.50,1267.50" fill="#181C43" stroke="#0a0d22" stroke-width="1" stroke-linejoin="miter"/>
<rect x="1646.00" y="836.00" width="24.50" height="15.71" fill="#540E22"/>
<rect x="1646.00" y="851.41" width="24.50" height="15.71" fill="#6E0F28"/>
<rect x="1646.00" y="866.82" width="24.50" height="15.71" fill="#870E2B"/>
<rect x="1646.00" y="882.23" width="24.50" height="15.71" fill="#9E142C"/>
<rect x="1646.00" y="897.64" width="24.50" height="15.71" fill="#AD2528"/>
<rect x="1646.00" y="913.05" width="24.50" height="15.71" fill="#B83D2A"/>
<rect x="1646.00" y="928.46" width="24.50" height="15.71" fill="#C0543A"/>
<rect x="1646.00" y="943.88" width="24.50" height="15.71" fill="#C66B4E"/>
<rect x="1646.00" y="959.29" width="24.50" height="15.71" fill="#CE8168"/>
<rect x="1646.00" y="974.70" width="24.50" height="15.71" fill="#D69782"/>
<rect x="1646.00" y="990.11" width="24.50" height="15.71" fill="#DDAB9A"/>
<rect x="1646.00" y="1005.52" width="24.50" height="15.71" fill="#E4BFB2"/>
<rect x="1646.00" y="1020.93" width="24.50" height="15.71" fill="#EAD3CA"/>
<rect x="1646.00" y="1036.34" width="24.50" height="15.71" fill="#F0E6E2"/>
<rect x="1646.00" y="1051.75" width="24.50" height="15.71" fill="#E6E6E6"/>
<rect x="1646.00" y="1067.16" width="24.50" height="15.71" fill="#D0D8DE"/>
<rect x="1646.00" y="1082.57" width="24.50" height="15.71" fill="#B5C9D0"/>
<rect x="1646.00" y="1097.98" width="24.50" height="15.71" fill="#9CBBC7"/>
<rect x="1646.00" y="1113.39" width="24.50" height="15.71" fill="#82AEC2"/>
<rect x="1646.00" y="1128.80" width="24.50" height="15.71" fill="#66A1BF"/>
<rect x="1646.00" y="1144.21" width="24.50" height="15.71" fill="#4C92BD"/>
<rect x="1646.00" y="1159.62" width="24.50" height="15.71" fill="#3683BC"/>
<rect x="1646.00" y="1175.04" width="24.50" height="15.71" fill="#1F74BC"/>
<rect x="1646.00" y="1190.45" width="24.50" height="15.71" fill="#1262C0"/>
<rect x="1646.00" y="1205.86" width="24.50" height="15.71" fill="#254CB4"/>
<rect x="1646.00" y="1221.27" width="24.50" height="15.71" fill="#2D3C9C"/>
<rect x="1646.00" y="1236.68" width="24.50" height="15.71" fill="#27347C"/>
<rect x="1646.00" y="1252.09" width="24.50" height="15.71" fill="#20285E"/>
<line x1="1645.40" y1="836.00" x2="1671.10" y2="836.00" stroke="#050505" stroke-width="1.4"/>
<line x1="1645.40" y1="851.41" x2="1671.10" y2="851.41" stroke="#050505" stroke-width="1.4"/>
<line x1="1645.40" y1="866.82" x2="1671.10" y2="866.82" stroke="#050505" stroke-width="1.4"/>
<line x1="1645.40" y1="882.23" x2="1671.10" y2="882.23" stroke="#050505" stroke-width="1.4"/>
<line x1="1645.40" y1="897.64" x2="1671.10" y2="897.64" stroke="#050505" stroke-width="1.4"/>
<line x1="1645.40" y1="913.05" x2="1671.10" y2="913.05" stroke="#050505" stroke-width="1.4"/>
<line x1="1645.40" y1="928.46" x2="1671.10" y2="928.46" stroke="#050505" stroke-width="1.4"/>
<line x1="1645.40" y1="943.88" x2="1671.10" y2="943.88" stroke="#050505" stroke-width="1.4"/>
<line x1="1645.40" y1="959.29" x2="1671.10" y2="959.29" stroke="#050505" stroke-width="1.4"/>
<line x1="1645.40" y1="974.70" x2="1671.10" y2="974.70" stroke="#050505" stroke-width="1.4"/>
<line x1="1645.40" y1="990.11" x2="1671.10" y2="990.11" stroke="#050505" stroke-width="1.4"/>
<line x1="1645.40" y1="1005.52" x2="1671.10" y2="1005.52" stroke="#050505" stroke-width="1.4"/>
<line x1="1645.40" y1="1020.93" x2="1671.10" y2="1020.93" stroke="#050505" stroke-width="1.4"/>
<line x1="1645.40" y1="1036.34" x2="1671.10" y2="1036.34" stroke="#050505" stroke-width="1.4"/>
<line x1="1645.40" y1="1051.75" x2="1671.10" y2="1051.75" stroke="#050505" stroke-width="1.4"/>
<line x1="1645.40" y1="1067.16" x2="1671.10" y2="1067.16" stroke="#050505" stroke-width="1.4"/>
<line x1="1645.40" y1="1082.57" x2="1671.10" y2="1082.57" stroke="#050505" stroke-width="1.4"/>
<line x1="1645.40" y1="1097.98" x2="1671.10" y2="1097.98" stroke="#050505" stroke-width="1.4"/>
<line x1="1645.40" y1="1113.39" x2="1671.10" y2="1113.39" stroke="#050505" stroke-width="1.4"/>
<line x1="1645.40" y1="1128.80" x2="1671.10" y2="1128.80" stroke="#050505" stroke-width="1.4"/>
<line x1="1645.40" y1="1144.21" x2="1671.10" y2="1144.21" stroke="#050505" stroke-width="1.4"/>
<line x1="1645.40" y1="1159.62" x2="1671.10" y2="1159.62" stroke="#050505" stroke-width="1.4"/>
<line x1="1645.40" y1="1175.04" x2="1671.10" y2="1175.04" stroke="#050505" stroke-width="1.4"/>
<line x1="1645.40" y1="1190.45" x2="1671.10" y2="1190.45" stroke="#050505" stroke-width="1.4"/>
<line x1="1645.40" y1="1205.86" x2="1671.10" y2="1205.86" stroke="#050505" stroke-width="1.4"/>
<line x1="1645.40" y1="1221.27" x2="1671.10" y2="1221.27" stroke="#050505" stroke-width="1.4"/>
<line x1="1645.40" y1="1236.68" x2="1671.10" y2="1236.68" stroke="#050505" stroke-width="1.4"/>
<line x1="1645.40" y1="1252.09" x2="1671.10" y2="1252.09" stroke="#050505" stroke-width="1.4"/>
<line x1="1645.40" y1="1267.50" x2="1671.10" y2="1267.50" stroke="#050505" stroke-width="1.4"/>
<line x1="1646.00" y1="836.00" x2="1646.00" y2="1267.50" stroke="#050505" stroke-width="1.3"/>
<line x1="1670.50" y1="836.00" x2="1670.50" y2="1267.50" stroke="#050505" stroke-width="1.3"/>
<text transform="translate(1709.00,842.80) scale(1.0300,1)" font-size="18.0" text-anchor="end" fill="#2a2a2a">50</text>
<text transform="translate(1709.00,873.62) scale(1.0300,1)" font-size="18.0" text-anchor="end" fill="#2a2a2a">40</text>
<text transform="translate(1709.00,904.44) scale(1.0300,1)" font-size="18.0" text-anchor="end" fill="#2a2a2a">30</text>
<text transform="translate(1709.00,935.26) scale(1.0300,1)" font-size="18.0" text-anchor="end" fill="#2a2a2a">20</text>
<text transform="translate(1709.00,966.09) scale(1.0300,1)" font-size="18.0" text-anchor="end" fill="#2a2a2a">10</text>
<text transform="translate(1709.00,996.91) scale(1.0300,1)" font-size="18.0" text-anchor="end" fill="#2a2a2a">4</text>
<text transform="translate(1709.00,1027.73) scale(1.0300,1)" font-size="18.0" text-anchor="end" fill="#2a2a2a">2</text>
<text transform="translate(1709.00,1058.55) scale(1.0300,1)" font-size="18.0" text-anchor="end" fill="#2a2a2a">0</text>
<text transform="translate(1709.00,1089.37) scale(1.0300,1)" font-size="18.0" text-anchor="end" fill="#2a2a2a">−2</text>
<text transform="translate(1709.00,1120.19) scale(1.0300,1)" font-size="18.0" text-anchor="end" fill="#2a2a2a">−4</text>
<text transform="translate(1709.00,1151.01) scale(1.0300,1)" font-size="18.0" text-anchor="end" fill="#2a2a2a">−10</text>
<text transform="translate(1709.00,1181.84) scale(1.0300,1)" font-size="18.0" text-anchor="end" fill="#2a2a2a">−20</text>
<text transform="translate(1709.00,1212.66) scale(1.0300,1)" font-size="18.0" text-anchor="end" fill="#2a2a2a">−30</text>
<text transform="translate(1709.00,1243.48) scale(1.0300,1)" font-size="18.0" text-anchor="end" fill="#2a2a2a">−40</text>
<text transform="translate(1709.00,1274.30) scale(1.0300,1)" font-size="18.0" text-anchor="end" fill="#2a2a2a">−50</text>
</g>
</svg>
</body>
</html>
